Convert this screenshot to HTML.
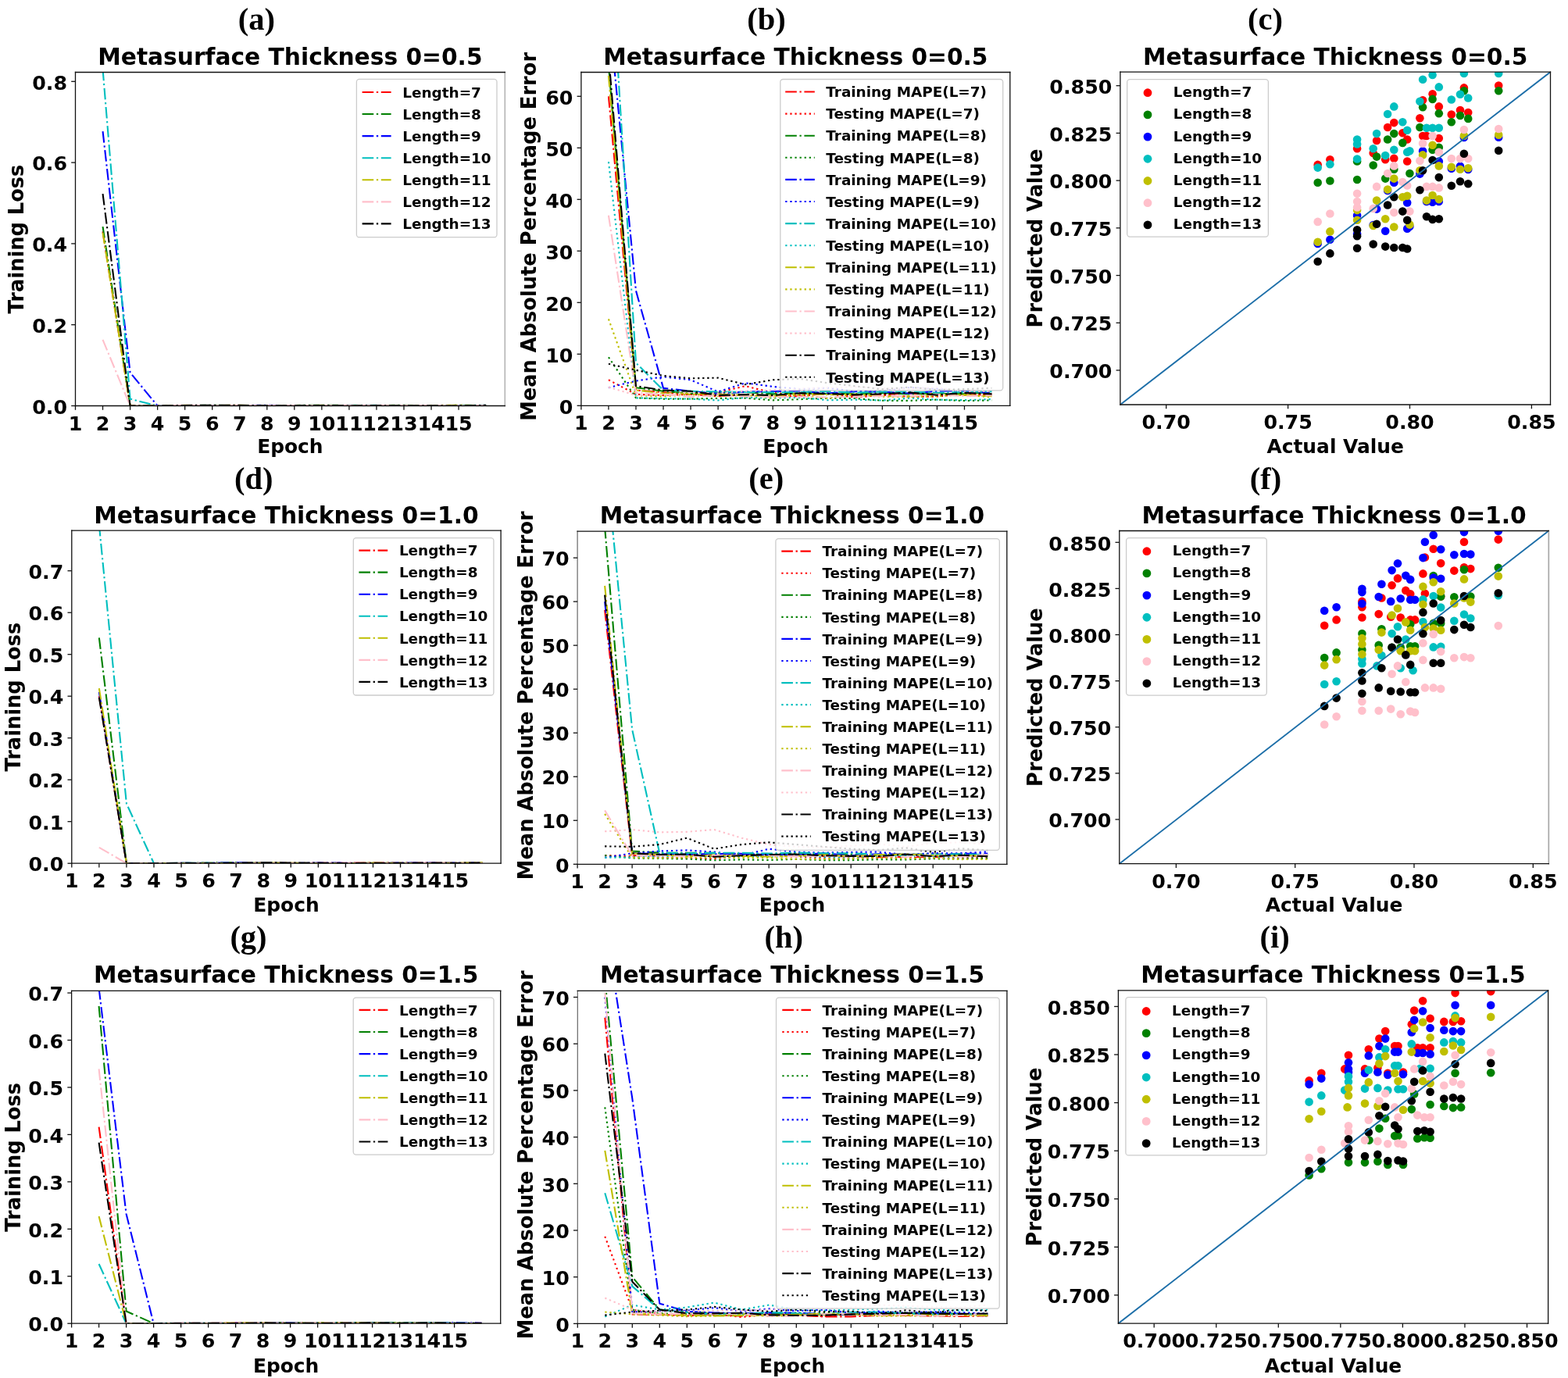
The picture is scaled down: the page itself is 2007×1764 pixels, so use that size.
<!DOCTYPE html>
<html><head><meta charset="utf-8"><title>Figure</title>
<style>html,body{margin:0;padding:0;background:#fff;}svg{display:block;filter:blur(0.45px)}text{font-family:'DejaVu Sans',sans-serif;font-weight:bold;fill:#000}</style></head>
<body><svg width="2007" height="1764" viewBox="0 0 2007 1764">
<rect width="2007" height="1764" fill="#fff"/>
<clipPath id="c1"><rect x="96.5" y="92.5" width="549.8" height="427"/></clipPath>
<polyline points="131.54,296.33 166.58,519.5 201.62,519.5 236.66,519.23 271.7,519.37 306.74,518.96 341.78,519.44 376.82,519.06 411.86,519.2 446.9,519.45 481.94,519.08 516.98,519.47 552.02,519.14 587.06,519.44 622.1,519.42" fill="none" stroke="#ff0000" stroke-width="2.1" stroke-dasharray="14.6 3.65 2.3 3.65" stroke-linejoin="round" clip-path="url(#c1)"/>
<polyline points="131.54,290.1 166.58,519.5 201.62,519.5 236.66,519.15 271.7,518.81 306.74,519.4 341.78,519.31 376.82,518.98 411.86,518.71 446.9,519.02 481.94,519.17 516.98,518.69 552.02,519.46 587.06,518.79 622.1,519.26" fill="none" stroke="#008000" stroke-width="2.1" stroke-dasharray="14.6 3.65 2.3 3.65" stroke-linejoin="round" clip-path="url(#c1)"/>
<polyline points="131.54,168.14 166.58,476.94 201.62,519.5 236.66,519.38 271.7,519.4 306.74,519.24 341.78,518.82 376.82,519.35 411.86,519.02 446.9,518.97 481.94,519.19 516.98,519.05 552.02,519.45 587.06,519.45 622.1,519.33" fill="none" stroke="#0000ff" stroke-width="2.1" stroke-dasharray="14.6 3.65 2.3 3.65" stroke-linejoin="round" clip-path="url(#c1)"/>
<polyline points="131.54,88.73 166.58,510.68 201.62,519.5 236.66,518.93 271.7,519.14 306.74,519.24 341.78,519.01 376.82,519.12 411.86,519.25 446.9,518.84 481.94,518.92 516.98,519.3 552.02,519.02 587.06,519.06 622.1,518.77" fill="none" stroke="#00bfbf" stroke-width="2.1" stroke-dasharray="14.6 3.65 2.3 3.65" stroke-linejoin="round" clip-path="url(#c1)"/>
<polyline points="131.54,297.89 166.58,519.5 201.62,519.5 236.66,518.89 271.7,519.26 306.74,518.69 341.78,519.4 376.82,519.15 411.86,518.87 446.9,519.37 481.94,519.09 516.98,519.47 552.02,518.95 587.06,518.87 622.1,519.02" fill="none" stroke="#bfbf00" stroke-width="2.1" stroke-dasharray="14.6 3.65 2.3 3.65" stroke-linejoin="round" clip-path="url(#c1)"/>
<polyline points="131.54,434.9 166.58,519.5 201.62,519.5 236.66,518.77 271.7,519.24 306.74,518.92 341.78,519.01 376.82,519.02 411.86,519.12 446.9,518.8 481.94,518.72 516.98,519.11 552.02,518.95 587.06,519.45 622.1,518.92" fill="none" stroke="#ffc0cb" stroke-width="2.1" stroke-dasharray="14.6 3.65 2.3 3.65" stroke-linejoin="round" clip-path="url(#c1)"/>
<polyline points="131.54,248.06 166.58,519.5 201.62,519.5 236.66,518.96 271.7,518.68 306.74,518.82 341.78,519.26 376.82,519.18 411.86,518.94 446.9,519.48 481.94,519.12 516.98,519.36 552.02,519.4 587.06,519.45 622.1,518.86" fill="none" stroke="#000000" stroke-width="2.1" stroke-dasharray="14.6 3.65 2.3 3.65" stroke-linejoin="round" clip-path="url(#c1)"/>
<line x1="96.5" y1="92.5" x2="96.5" y2="519.5" stroke="#111" stroke-width="1.3" stroke-linecap="square"/>
<line x1="646.3" y1="92.5" x2="646.3" y2="519.5" stroke="#b8b8b8" stroke-width="1.7" stroke-linecap="square"/>
<line x1="96.5" y1="92.5" x2="646.3" y2="92.5" stroke="#111" stroke-width="1.3" stroke-linecap="square"/>
<line x1="96.5" y1="519.5" x2="646.3" y2="519.5" stroke="#111" stroke-width="1.3" stroke-linecap="square"/>
<line x1="91.2" y1="519.5" x2="96.5" y2="519.5" stroke="#111" stroke-width="1.3"/>
<text x="86" y="529.7" font-size="25.3" text-anchor="end" >0.0</text>
<line x1="91.2" y1="415.7" x2="96.5" y2="415.7" stroke="#111" stroke-width="1.3"/>
<text x="86" y="425.9" font-size="25.3" text-anchor="end" >0.2</text>
<line x1="91.2" y1="311.9" x2="96.5" y2="311.9" stroke="#111" stroke-width="1.3"/>
<text x="86" y="322.1" font-size="25.3" text-anchor="end" >0.4</text>
<line x1="91.2" y1="208.1" x2="96.5" y2="208.1" stroke="#111" stroke-width="1.3"/>
<text x="86" y="218.3" font-size="25.3" text-anchor="end" >0.6</text>
<line x1="91.2" y1="104.3" x2="96.5" y2="104.3" stroke="#111" stroke-width="1.3"/>
<text x="86" y="114.5" font-size="25.3" text-anchor="end" >0.8</text>
<line x1="96.5" y1="519.5" x2="96.5" y2="524.8" stroke="#111" stroke-width="1.3"/>
<text x="96.5" y="550.5" font-size="25.3" text-anchor="middle" >1</text>
<line x1="131.54" y1="519.5" x2="131.54" y2="524.8" stroke="#111" stroke-width="1.3"/>
<text x="131.54" y="550.5" font-size="25.3" text-anchor="middle" >2</text>
<line x1="166.58" y1="519.5" x2="166.58" y2="524.8" stroke="#111" stroke-width="1.3"/>
<text x="166.58" y="550.5" font-size="25.3" text-anchor="middle" >3</text>
<line x1="201.62" y1="519.5" x2="201.62" y2="524.8" stroke="#111" stroke-width="1.3"/>
<text x="201.62" y="550.5" font-size="25.3" text-anchor="middle" >4</text>
<line x1="236.66" y1="519.5" x2="236.66" y2="524.8" stroke="#111" stroke-width="1.3"/>
<text x="236.66" y="550.5" font-size="25.3" text-anchor="middle" >5</text>
<line x1="271.7" y1="519.5" x2="271.7" y2="524.8" stroke="#111" stroke-width="1.3"/>
<text x="271.7" y="550.5" font-size="25.3" text-anchor="middle" >6</text>
<line x1="306.74" y1="519.5" x2="306.74" y2="524.8" stroke="#111" stroke-width="1.3"/>
<text x="306.74" y="550.5" font-size="25.3" text-anchor="middle" >7</text>
<line x1="341.78" y1="519.5" x2="341.78" y2="524.8" stroke="#111" stroke-width="1.3"/>
<text x="341.78" y="550.5" font-size="25.3" text-anchor="middle" >8</text>
<line x1="376.82" y1="519.5" x2="376.82" y2="524.8" stroke="#111" stroke-width="1.3"/>
<text x="376.82" y="550.5" font-size="25.3" text-anchor="middle" >9</text>
<line x1="411.86" y1="519.5" x2="411.86" y2="524.8" stroke="#111" stroke-width="1.3"/>
<text x="411.86" y="550.5" font-size="25.3" text-anchor="middle" >10</text>
<line x1="446.9" y1="519.5" x2="446.9" y2="524.8" stroke="#111" stroke-width="1.3"/>
<text x="446.9" y="550.5" font-size="25.3" text-anchor="middle" >11</text>
<line x1="481.94" y1="519.5" x2="481.94" y2="524.8" stroke="#111" stroke-width="1.3"/>
<text x="481.94" y="550.5" font-size="25.3" text-anchor="middle" >12</text>
<line x1="516.98" y1="519.5" x2="516.98" y2="524.8" stroke="#111" stroke-width="1.3"/>
<text x="516.98" y="550.5" font-size="25.3" text-anchor="middle" >13</text>
<line x1="552.02" y1="519.5" x2="552.02" y2="524.8" stroke="#111" stroke-width="1.3"/>
<text x="552.02" y="550.5" font-size="25.3" text-anchor="middle" >14</text>
<line x1="587.06" y1="519.5" x2="587.06" y2="524.8" stroke="#111" stroke-width="1.3"/>
<text x="587.06" y="550.5" font-size="25.3" text-anchor="middle" >15</text>
<rect x="456.4" y="101.4" width="179.6" height="202.3" rx="3.5" fill="#fff" fill-opacity="0.8" stroke="#cccccc" stroke-width="1.3"/>
<line x1="463.6" y1="118" x2="500.6" y2="118" stroke="#ff0000" stroke-width="2.1" stroke-dasharray="14.6 3.65 2.3 3.65"/>
<text x="515.3" y="124.7" font-size="18.4" text-anchor="start" >Length=7</text>
<line x1="463.6" y1="146.07" x2="500.6" y2="146.07" stroke="#008000" stroke-width="2.1" stroke-dasharray="14.6 3.65 2.3 3.65"/>
<text x="515.3" y="152.77" font-size="18.4" text-anchor="start" >Length=8</text>
<line x1="463.6" y1="174.14" x2="500.6" y2="174.14" stroke="#0000ff" stroke-width="2.1" stroke-dasharray="14.6 3.65 2.3 3.65"/>
<text x="515.3" y="180.84" font-size="18.4" text-anchor="start" >Length=9</text>
<line x1="463.6" y1="202.21" x2="500.6" y2="202.21" stroke="#00bfbf" stroke-width="2.1" stroke-dasharray="14.6 3.65 2.3 3.65"/>
<text x="515.3" y="208.91" font-size="18.4" text-anchor="start" >Length=10</text>
<line x1="463.6" y1="230.28" x2="500.6" y2="230.28" stroke="#bfbf00" stroke-width="2.1" stroke-dasharray="14.6 3.65 2.3 3.65"/>
<text x="515.3" y="236.98" font-size="18.4" text-anchor="start" >Length=11</text>
<line x1="463.6" y1="258.35" x2="500.6" y2="258.35" stroke="#ffc0cb" stroke-width="2.1" stroke-dasharray="14.6 3.65 2.3 3.65"/>
<text x="515.3" y="265.05" font-size="18.4" text-anchor="start" >Length=12</text>
<line x1="463.6" y1="286.42" x2="500.6" y2="286.42" stroke="#000000" stroke-width="2.1" stroke-dasharray="14.6 3.65 2.3 3.65"/>
<text x="515.3" y="293.12" font-size="18.4" text-anchor="start" >Length=13</text>
<text x="371.4" y="82.5" font-size="29.7" text-anchor="middle" >Metasurface Thickness 0=0.5</text>
<text x="371.4" y="579.5" font-size="24.9" text-anchor="middle" >Epoch</text>
<text x="0" y="0" font-size="25.7" text-anchor="middle" transform="translate(30.3,306) rotate(-90)">Training Loss</text>
<clipPath id="c2"><rect x="91.8" y="679.1" width="549.3" height="426.1"/></clipPath>
<polyline points="126.86,891.2 161.92,1105.2 196.98,1105.2 232.04,1105.09 267.1,1104.99 302.16,1104.87 337.22,1104.45 372.28,1105.13 407.34,1104.82 442.4,1104.73 477.46,1104.44 512.52,1104.5 547.58,1104.46 582.64,1104.96 617.7,1104.84" fill="none" stroke="#ff0000" stroke-width="2.1" stroke-dasharray="14.6 3.65 2.3 3.65" stroke-linejoin="round" clip-path="url(#c2)"/>
<polyline points="126.86,816.3 161.92,1105.2 196.98,1105.2 232.04,1104.89 267.1,1104.44 302.16,1104.38 337.22,1105.07 372.28,1105.05 407.34,1105 442.4,1105 477.46,1104.78 512.52,1104.7 547.58,1104.98 582.64,1105.2 617.7,1104.84" fill="none" stroke="#008000" stroke-width="2.1" stroke-dasharray="14.6 3.65 2.3 3.65" stroke-linejoin="round" clip-path="url(#c2)"/>
<polyline points="126.86,885.85 161.92,1105.2 196.98,1105.2 232.04,1104.88 267.1,1104.72 302.16,1104.38 337.22,1104.61 372.28,1104.76 407.34,1104.67 442.4,1104.62 477.46,1105.15 512.52,1104.43 547.58,1104.53 582.64,1104.45 617.7,1104.52" fill="none" stroke="#0000ff" stroke-width="2.1" stroke-dasharray="14.6 3.65 2.3 3.65" stroke-linejoin="round" clip-path="url(#c2)"/>
<polyline points="126.86,671.85 161.92,1028.7 196.98,1105.2 232.04,1104.86 267.1,1104.86 302.16,1105.11 337.22,1104.66 372.28,1105.15 407.34,1105.14 442.4,1105.02 477.46,1105.06 512.52,1104.91 547.58,1105.15 582.64,1105.2 617.7,1105.07" fill="none" stroke="#00bfbf" stroke-width="2.1" stroke-dasharray="14.6 3.65 2.3 3.65" stroke-linejoin="round" clip-path="url(#c2)"/>
<polyline points="126.86,881.04 161.92,1105.2 196.98,1105.2 232.04,1105.11 267.1,1104.89 302.16,1105.18 337.22,1104.45 372.28,1104.67 407.34,1105.07 442.4,1104.98 477.46,1104.9 512.52,1104.89 547.58,1105.09 582.64,1104.47 617.7,1104.35" fill="none" stroke="#bfbf00" stroke-width="2.1" stroke-dasharray="14.6 3.65 2.3 3.65" stroke-linejoin="round" clip-path="url(#c2)"/>
<polyline points="126.86,1084.87 161.92,1105.2 196.98,1105.2 232.04,1104.8 267.1,1104.79 302.16,1105.13 337.22,1105.11 372.28,1104.91 407.34,1104.97 442.4,1104.49 477.46,1105.06 512.52,1105.18 547.58,1104.39 582.64,1104.75 617.7,1105.07" fill="none" stroke="#ffc0cb" stroke-width="2.1" stroke-dasharray="14.6 3.65 2.3 3.65" stroke-linejoin="round" clip-path="url(#c2)"/>
<polyline points="126.86,892.81 161.92,1105.2 196.98,1105.2 232.04,1104.74 267.1,1105.18 302.16,1104.75 337.22,1104.36 372.28,1104.46 407.34,1104.6 442.4,1104.98 477.46,1104.89 512.52,1105.06 547.58,1104.54 582.64,1104.74 617.7,1104.53" fill="none" stroke="#000000" stroke-width="2.1" stroke-dasharray="14.6 3.65 2.3 3.65" stroke-linejoin="round" clip-path="url(#c2)"/>
<line x1="91.8" y1="679.1" x2="91.8" y2="1105.2" stroke="#111" stroke-width="1.3" stroke-linecap="square"/>
<line x1="641.1" y1="679.1" x2="641.1" y2="1105.2" stroke="#111" stroke-width="1.3" stroke-linecap="square"/>
<line x1="91.8" y1="679.1" x2="641.1" y2="679.1" stroke="#111" stroke-width="1.3" stroke-linecap="square"/>
<line x1="91.8" y1="1105.2" x2="641.1" y2="1105.2" stroke="#111" stroke-width="1.3" stroke-linecap="square"/>
<line x1="86.5" y1="1105.2" x2="91.8" y2="1105.2" stroke="#111" stroke-width="1.3"/>
<text x="81.3" y="1115.4" font-size="25.3" text-anchor="end" >0.0</text>
<line x1="86.5" y1="1051.7" x2="91.8" y2="1051.7" stroke="#111" stroke-width="1.3"/>
<text x="81.3" y="1061.9" font-size="25.3" text-anchor="end" >0.1</text>
<line x1="86.5" y1="998.2" x2="91.8" y2="998.2" stroke="#111" stroke-width="1.3"/>
<text x="81.3" y="1008.4" font-size="25.3" text-anchor="end" >0.2</text>
<line x1="86.5" y1="944.7" x2="91.8" y2="944.7" stroke="#111" stroke-width="1.3"/>
<text x="81.3" y="954.9" font-size="25.3" text-anchor="end" >0.3</text>
<line x1="86.5" y1="891.2" x2="91.8" y2="891.2" stroke="#111" stroke-width="1.3"/>
<text x="81.3" y="901.4" font-size="25.3" text-anchor="end" >0.4</text>
<line x1="86.5" y1="837.7" x2="91.8" y2="837.7" stroke="#111" stroke-width="1.3"/>
<text x="81.3" y="847.9" font-size="25.3" text-anchor="end" >0.5</text>
<line x1="86.5" y1="784.2" x2="91.8" y2="784.2" stroke="#111" stroke-width="1.3"/>
<text x="81.3" y="794.4" font-size="25.3" text-anchor="end" >0.6</text>
<line x1="86.5" y1="730.7" x2="91.8" y2="730.7" stroke="#111" stroke-width="1.3"/>
<text x="81.3" y="740.9" font-size="25.3" text-anchor="end" >0.7</text>
<line x1="91.8" y1="1105.2" x2="91.8" y2="1110.5" stroke="#111" stroke-width="1.3"/>
<text x="91.8" y="1136.2" font-size="25.3" text-anchor="middle" >1</text>
<line x1="126.86" y1="1105.2" x2="126.86" y2="1110.5" stroke="#111" stroke-width="1.3"/>
<text x="126.86" y="1136.2" font-size="25.3" text-anchor="middle" >2</text>
<line x1="161.92" y1="1105.2" x2="161.92" y2="1110.5" stroke="#111" stroke-width="1.3"/>
<text x="161.92" y="1136.2" font-size="25.3" text-anchor="middle" >3</text>
<line x1="196.98" y1="1105.2" x2="196.98" y2="1110.5" stroke="#111" stroke-width="1.3"/>
<text x="196.98" y="1136.2" font-size="25.3" text-anchor="middle" >4</text>
<line x1="232.04" y1="1105.2" x2="232.04" y2="1110.5" stroke="#111" stroke-width="1.3"/>
<text x="232.04" y="1136.2" font-size="25.3" text-anchor="middle" >5</text>
<line x1="267.1" y1="1105.2" x2="267.1" y2="1110.5" stroke="#111" stroke-width="1.3"/>
<text x="267.1" y="1136.2" font-size="25.3" text-anchor="middle" >6</text>
<line x1="302.16" y1="1105.2" x2="302.16" y2="1110.5" stroke="#111" stroke-width="1.3"/>
<text x="302.16" y="1136.2" font-size="25.3" text-anchor="middle" >7</text>
<line x1="337.22" y1="1105.2" x2="337.22" y2="1110.5" stroke="#111" stroke-width="1.3"/>
<text x="337.22" y="1136.2" font-size="25.3" text-anchor="middle" >8</text>
<line x1="372.28" y1="1105.2" x2="372.28" y2="1110.5" stroke="#111" stroke-width="1.3"/>
<text x="372.28" y="1136.2" font-size="25.3" text-anchor="middle" >9</text>
<line x1="407.34" y1="1105.2" x2="407.34" y2="1110.5" stroke="#111" stroke-width="1.3"/>
<text x="407.34" y="1136.2" font-size="25.3" text-anchor="middle" >10</text>
<line x1="442.4" y1="1105.2" x2="442.4" y2="1110.5" stroke="#111" stroke-width="1.3"/>
<text x="442.4" y="1136.2" font-size="25.3" text-anchor="middle" >11</text>
<line x1="477.46" y1="1105.2" x2="477.46" y2="1110.5" stroke="#111" stroke-width="1.3"/>
<text x="477.46" y="1136.2" font-size="25.3" text-anchor="middle" >12</text>
<line x1="512.52" y1="1105.2" x2="512.52" y2="1110.5" stroke="#111" stroke-width="1.3"/>
<text x="512.52" y="1136.2" font-size="25.3" text-anchor="middle" >13</text>
<line x1="547.58" y1="1105.2" x2="547.58" y2="1110.5" stroke="#111" stroke-width="1.3"/>
<text x="547.58" y="1136.2" font-size="25.3" text-anchor="middle" >14</text>
<line x1="582.64" y1="1105.2" x2="582.64" y2="1110.5" stroke="#111" stroke-width="1.3"/>
<text x="582.64" y="1136.2" font-size="25.3" text-anchor="middle" >15</text>
<rect x="452.3" y="688.6" width="179.6" height="201.4" rx="3.5" fill="#fff" fill-opacity="0.8" stroke="#cccccc" stroke-width="1.3"/>
<line x1="459.4" y1="704.6" x2="496.2" y2="704.6" stroke="#ff0000" stroke-width="2.1" stroke-dasharray="14.6 3.65 2.3 3.65"/>
<text x="510.9" y="711.3" font-size="18.4" text-anchor="start" >Length=7</text>
<line x1="459.4" y1="732.65" x2="496.2" y2="732.65" stroke="#008000" stroke-width="2.1" stroke-dasharray="14.6 3.65 2.3 3.65"/>
<text x="510.9" y="739.35" font-size="18.4" text-anchor="start" >Length=8</text>
<line x1="459.4" y1="760.7" x2="496.2" y2="760.7" stroke="#0000ff" stroke-width="2.1" stroke-dasharray="14.6 3.65 2.3 3.65"/>
<text x="510.9" y="767.4" font-size="18.4" text-anchor="start" >Length=9</text>
<line x1="459.4" y1="788.75" x2="496.2" y2="788.75" stroke="#00bfbf" stroke-width="2.1" stroke-dasharray="14.6 3.65 2.3 3.65"/>
<text x="510.9" y="795.45" font-size="18.4" text-anchor="start" >Length=10</text>
<line x1="459.4" y1="816.8" x2="496.2" y2="816.8" stroke="#bfbf00" stroke-width="2.1" stroke-dasharray="14.6 3.65 2.3 3.65"/>
<text x="510.9" y="823.5" font-size="18.4" text-anchor="start" >Length=11</text>
<line x1="459.4" y1="844.85" x2="496.2" y2="844.85" stroke="#ffc0cb" stroke-width="2.1" stroke-dasharray="14.6 3.65 2.3 3.65"/>
<text x="510.9" y="851.55" font-size="18.4" text-anchor="start" >Length=12</text>
<line x1="459.4" y1="872.9" x2="496.2" y2="872.9" stroke="#000000" stroke-width="2.1" stroke-dasharray="14.6 3.65 2.3 3.65"/>
<text x="510.9" y="879.6" font-size="18.4" text-anchor="start" >Length=13</text>
<text x="366.45" y="670" font-size="29.7" text-anchor="middle" >Metasurface Thickness 0=1.0</text>
<text x="366.45" y="1166.5" font-size="24.9" text-anchor="middle" >Epoch</text>
<text x="0" y="0" font-size="25.7" text-anchor="middle" transform="translate(26,892.15) rotate(-90)">Training Loss</text>
<clipPath id="c3"><rect x="91.6" y="1268.3" width="549.1" height="425.9"/></clipPath>
<polyline points="126.6,1442.73 161.6,1694.2 196.6,1694.2 231.6,1693.88 266.6,1693.98 301.6,1693.42 336.6,1693.25 371.6,1693.38 406.6,1693.42 441.6,1693.41 476.6,1693.48 511.6,1693.98 546.6,1693.7 581.6,1693.86 616.6,1694.17" fill="none" stroke="#ff0000" stroke-width="2.1" stroke-dasharray="14.6 3.65 2.3 3.65" stroke-linejoin="round" clip-path="url(#c3)"/>
<polyline points="126.6,1287.98 161.6,1678.48 196.6,1694.2 231.6,1694.17 266.6,1693.93 301.6,1693.95 336.6,1693.53 371.6,1693.27 406.6,1693.77 441.6,1693.29 476.6,1693.24 511.6,1693.28 546.6,1693.85 581.6,1693.99 616.6,1693.98" fill="none" stroke="#008000" stroke-width="2.1" stroke-dasharray="14.6 3.65 2.3 3.65" stroke-linejoin="round" clip-path="url(#c3)"/>
<polyline points="126.6,1265.01 161.6,1553.96 196.6,1694.2 231.6,1694.01 266.6,1694 301.6,1693.6 336.6,1693.33 371.6,1693.39 406.6,1693.74 441.6,1693.57 476.6,1693.43 511.6,1694.12 546.6,1693.56 581.6,1693.32 616.6,1693.44" fill="none" stroke="#0000ff" stroke-width="2.1" stroke-dasharray="14.6 3.65 2.3 3.65" stroke-linejoin="round" clip-path="url(#c3)"/>
<polyline points="126.6,1618.03 161.6,1694.2 196.6,1694.2 231.6,1693.47 266.6,1693.74 301.6,1694.03 336.6,1693.44 371.6,1693.88 406.6,1693.43 441.6,1693.26 476.6,1693.82 511.6,1693.81 546.6,1693.28 581.6,1693.5 616.6,1694.04" fill="none" stroke="#00bfbf" stroke-width="2.1" stroke-dasharray="14.6 3.65 2.3 3.65" stroke-linejoin="round" clip-path="url(#c3)"/>
<polyline points="126.6,1556.98 161.6,1694.2 196.6,1694.2 231.6,1694.08 266.6,1694.05 301.6,1693.32 336.6,1693.42 371.6,1694.06 406.6,1693.4 441.6,1693.25 476.6,1693.56 511.6,1693.86 546.6,1693.67 581.6,1694.07 616.6,1694.19" fill="none" stroke="#bfbf00" stroke-width="2.1" stroke-dasharray="14.6 3.65 2.3 3.65" stroke-linejoin="round" clip-path="url(#c3)"/>
<polyline points="126.6,1368.37 161.6,1694.2 196.6,1694.2 231.6,1693.26 266.6,1693.57 301.6,1693.69 336.6,1693.3 371.6,1693.78 406.6,1693.36 441.6,1693.4 476.6,1694 511.6,1693.96 546.6,1693.92 581.6,1693.97 616.6,1693.63" fill="none" stroke="#ffc0cb" stroke-width="2.1" stroke-dasharray="14.6 3.65 2.3 3.65" stroke-linejoin="round" clip-path="url(#c3)"/>
<polyline points="126.6,1462.68 161.6,1694.2 196.6,1694.2 231.6,1693.95 266.6,1693.79 301.6,1694.07 336.6,1693.32 371.6,1693.86 406.6,1693.76 441.6,1693.64 476.6,1693.33 511.6,1693.79 546.6,1693.31 581.6,1693.71 616.6,1693.69" fill="none" stroke="#000000" stroke-width="2.1" stroke-dasharray="14.6 3.65 2.3 3.65" stroke-linejoin="round" clip-path="url(#c3)"/>
<line x1="91.6" y1="1268.3" x2="91.6" y2="1694.2" stroke="#111" stroke-width="1.3" stroke-linecap="square"/>
<line x1="640.7" y1="1268.3" x2="640.7" y2="1694.2" stroke="#111" stroke-width="1.3" stroke-linecap="square"/>
<line x1="91.6" y1="1268.3" x2="640.7" y2="1268.3" stroke="#111" stroke-width="1.3" stroke-linecap="square"/>
<line x1="91.6" y1="1694.2" x2="640.7" y2="1694.2" stroke="#111" stroke-width="1.3" stroke-linecap="square"/>
<line x1="86.3" y1="1694.2" x2="91.6" y2="1694.2" stroke="#111" stroke-width="1.3"/>
<text x="81.1" y="1704.4" font-size="25.3" text-anchor="end" >0.0</text>
<line x1="86.3" y1="1633.75" x2="91.6" y2="1633.75" stroke="#111" stroke-width="1.3"/>
<text x="81.1" y="1643.95" font-size="25.3" text-anchor="end" >0.1</text>
<line x1="86.3" y1="1573.3" x2="91.6" y2="1573.3" stroke="#111" stroke-width="1.3"/>
<text x="81.1" y="1583.5" font-size="25.3" text-anchor="end" >0.2</text>
<line x1="86.3" y1="1512.85" x2="91.6" y2="1512.85" stroke="#111" stroke-width="1.3"/>
<text x="81.1" y="1523.05" font-size="25.3" text-anchor="end" >0.3</text>
<line x1="86.3" y1="1452.4" x2="91.6" y2="1452.4" stroke="#111" stroke-width="1.3"/>
<text x="81.1" y="1462.6" font-size="25.3" text-anchor="end" >0.4</text>
<line x1="86.3" y1="1391.95" x2="91.6" y2="1391.95" stroke="#111" stroke-width="1.3"/>
<text x="81.1" y="1402.15" font-size="25.3" text-anchor="end" >0.5</text>
<line x1="86.3" y1="1331.5" x2="91.6" y2="1331.5" stroke="#111" stroke-width="1.3"/>
<text x="81.1" y="1341.7" font-size="25.3" text-anchor="end" >0.6</text>
<line x1="86.3" y1="1271.05" x2="91.6" y2="1271.05" stroke="#111" stroke-width="1.3"/>
<text x="81.1" y="1281.25" font-size="25.3" text-anchor="end" >0.7</text>
<line x1="91.6" y1="1694.2" x2="91.6" y2="1699.5" stroke="#111" stroke-width="1.3"/>
<text x="91.6" y="1725.2" font-size="25.3" text-anchor="middle" >1</text>
<line x1="126.6" y1="1694.2" x2="126.6" y2="1699.5" stroke="#111" stroke-width="1.3"/>
<text x="126.6" y="1725.2" font-size="25.3" text-anchor="middle" >2</text>
<line x1="161.6" y1="1694.2" x2="161.6" y2="1699.5" stroke="#111" stroke-width="1.3"/>
<text x="161.6" y="1725.2" font-size="25.3" text-anchor="middle" >3</text>
<line x1="196.6" y1="1694.2" x2="196.6" y2="1699.5" stroke="#111" stroke-width="1.3"/>
<text x="196.6" y="1725.2" font-size="25.3" text-anchor="middle" >4</text>
<line x1="231.6" y1="1694.2" x2="231.6" y2="1699.5" stroke="#111" stroke-width="1.3"/>
<text x="231.6" y="1725.2" font-size="25.3" text-anchor="middle" >5</text>
<line x1="266.6" y1="1694.2" x2="266.6" y2="1699.5" stroke="#111" stroke-width="1.3"/>
<text x="266.6" y="1725.2" font-size="25.3" text-anchor="middle" >6</text>
<line x1="301.6" y1="1694.2" x2="301.6" y2="1699.5" stroke="#111" stroke-width="1.3"/>
<text x="301.6" y="1725.2" font-size="25.3" text-anchor="middle" >7</text>
<line x1="336.6" y1="1694.2" x2="336.6" y2="1699.5" stroke="#111" stroke-width="1.3"/>
<text x="336.6" y="1725.2" font-size="25.3" text-anchor="middle" >8</text>
<line x1="371.6" y1="1694.2" x2="371.6" y2="1699.5" stroke="#111" stroke-width="1.3"/>
<text x="371.6" y="1725.2" font-size="25.3" text-anchor="middle" >9</text>
<line x1="406.6" y1="1694.2" x2="406.6" y2="1699.5" stroke="#111" stroke-width="1.3"/>
<text x="406.6" y="1725.2" font-size="25.3" text-anchor="middle" >10</text>
<line x1="441.6" y1="1694.2" x2="441.6" y2="1699.5" stroke="#111" stroke-width="1.3"/>
<text x="441.6" y="1725.2" font-size="25.3" text-anchor="middle" >11</text>
<line x1="476.6" y1="1694.2" x2="476.6" y2="1699.5" stroke="#111" stroke-width="1.3"/>
<text x="476.6" y="1725.2" font-size="25.3" text-anchor="middle" >12</text>
<line x1="511.6" y1="1694.2" x2="511.6" y2="1699.5" stroke="#111" stroke-width="1.3"/>
<text x="511.6" y="1725.2" font-size="25.3" text-anchor="middle" >13</text>
<line x1="546.6" y1="1694.2" x2="546.6" y2="1699.5" stroke="#111" stroke-width="1.3"/>
<text x="546.6" y="1725.2" font-size="25.3" text-anchor="middle" >14</text>
<line x1="581.6" y1="1694.2" x2="581.6" y2="1699.5" stroke="#111" stroke-width="1.3"/>
<text x="581.6" y="1725.2" font-size="25.3" text-anchor="middle" >15</text>
<rect x="452.2" y="1277.1" width="179.8" height="201" rx="3.5" fill="#fff" fill-opacity="0.8" stroke="#cccccc" stroke-width="1.3"/>
<line x1="459.6" y1="1292.9" x2="496.4" y2="1292.9" stroke="#ff0000" stroke-width="2.1" stroke-dasharray="14.6 3.65 2.3 3.65"/>
<text x="511.1" y="1299.6" font-size="18.4" text-anchor="start" >Length=7</text>
<line x1="459.6" y1="1321" x2="496.4" y2="1321" stroke="#008000" stroke-width="2.1" stroke-dasharray="14.6 3.65 2.3 3.65"/>
<text x="511.1" y="1327.7" font-size="18.4" text-anchor="start" >Length=8</text>
<line x1="459.6" y1="1349.1" x2="496.4" y2="1349.1" stroke="#0000ff" stroke-width="2.1" stroke-dasharray="14.6 3.65 2.3 3.65"/>
<text x="511.1" y="1355.8" font-size="18.4" text-anchor="start" >Length=9</text>
<line x1="459.6" y1="1377.2" x2="496.4" y2="1377.2" stroke="#00bfbf" stroke-width="2.1" stroke-dasharray="14.6 3.65 2.3 3.65"/>
<text x="511.1" y="1383.9" font-size="18.4" text-anchor="start" >Length=10</text>
<line x1="459.6" y1="1405.3" x2="496.4" y2="1405.3" stroke="#bfbf00" stroke-width="2.1" stroke-dasharray="14.6 3.65 2.3 3.65"/>
<text x="511.1" y="1412" font-size="18.4" text-anchor="start" >Length=11</text>
<line x1="459.6" y1="1433.4" x2="496.4" y2="1433.4" stroke="#ffc0cb" stroke-width="2.1" stroke-dasharray="14.6 3.65 2.3 3.65"/>
<text x="511.1" y="1440.1" font-size="18.4" text-anchor="start" >Length=12</text>
<line x1="459.6" y1="1461.5" x2="496.4" y2="1461.5" stroke="#000000" stroke-width="2.1" stroke-dasharray="14.6 3.65 2.3 3.65"/>
<text x="511.1" y="1468.2" font-size="18.4" text-anchor="start" >Length=13</text>
<text x="366.15" y="1258" font-size="29.7" text-anchor="middle" >Metasurface Thickness 0=1.5</text>
<text x="366.15" y="1756.5" font-size="24.9" text-anchor="middle" >Epoch</text>
<text x="0" y="0" font-size="25.7" text-anchor="middle" transform="translate(26,1481.25) rotate(-90)">Training Loss</text>
<clipPath id="c4"><rect x="743.9" y="92.5" width="548.9" height="426.8"/></clipPath>
<polyline points="778.94,123.3 813.98,499.5 849.02,502.14 884.06,504.66 919.1,507.32 954.14,505.1 989.18,506.45 1024.22,507.4 1059.26,503.2 1094.3,506.51 1129.34,504.92 1164.38,503.59 1199.42,504.48 1234.46,505.7 1269.5,504.68" fill="none" stroke="#ff0000" stroke-width="2.1" stroke-dasharray="14.6 3.65 2.3 3.65" stroke-linejoin="round" clip-path="url(#c4)"/>
<polyline points="778.94,486.3 813.98,504.78 849.02,506.1 884.06,504.78 919.1,502.14 954.14,494.22 989.18,502.8 1024.22,505.73 1059.26,504.22 1094.3,508.7 1129.34,505.7 1164.38,507.76 1199.42,507.57 1234.46,504.3 1269.5,506.05" fill="none" stroke="#ff0000" stroke-width="2.1" stroke-dasharray="2.3 3.8" stroke-linejoin="round" clip-path="url(#c4)"/>
<polyline points="778.94,83.7 813.98,496.2 849.02,500.82 884.06,503.79 919.1,502.75 954.14,501.94 989.18,504.42 1024.22,503.53 1059.26,504.09 1094.3,504.06 1129.34,503.1 1164.38,504.37 1199.42,503.94 1234.46,504.24 1269.5,501.79" fill="none" stroke="#008000" stroke-width="2.1" stroke-dasharray="14.6 3.65 2.3 3.65" stroke-linejoin="round" clip-path="url(#c4)"/>
<polyline points="778.94,457.26 813.98,509.4 849.02,510.72 884.06,510.59 919.1,509.89 954.14,509.63 989.18,512.33 1024.22,511.14 1059.26,509.62 1094.3,510.03 1129.34,512.82 1164.38,512.88 1199.42,511.61 1234.46,513.07 1269.5,512.41" fill="none" stroke="#008000" stroke-width="2.1" stroke-dasharray="2.3 3.8" stroke-linejoin="round" clip-path="url(#c4)"/>
<polyline points="778.94,11.1 813.98,372.12 849.02,496.86 884.06,500.82 919.1,503.83 954.14,501.47 989.18,501.02 1024.22,500.57 1059.26,503.51 1094.3,501.28 1129.34,501.51 1164.38,503.55 1199.42,500.62 1234.46,500.29 1269.5,503.25" fill="none" stroke="#0000ff" stroke-width="2.1" stroke-dasharray="14.6 3.65 2.3 3.65" stroke-linejoin="round" clip-path="url(#c4)"/>
<polyline points="778.94,496.2 813.98,487.62 849.02,482.34 884.06,486.3 919.1,501.48 954.14,490.26 989.18,494.88 1024.22,498.18 1059.26,496.58 1094.3,500.97 1129.34,500.26 1164.38,496.28 1199.42,497.53 1234.46,502.84 1269.5,500.7" fill="none" stroke="#0000ff" stroke-width="2.1" stroke-dasharray="2.3 3.8" stroke-linejoin="round" clip-path="url(#c4)"/>
<polyline points="778.94,-107.7 813.98,464.52 849.02,499.5 884.06,500.82 919.1,501.44 954.14,501.9 989.18,502.28 1024.22,501.96 1059.26,500.89 1094.3,502.75 1129.34,501.34 1164.38,501.64 1199.42,502.75 1234.46,501.92 1269.5,501.15" fill="none" stroke="#00bfbf" stroke-width="2.1" stroke-dasharray="14.6 3.65 2.3 3.65" stroke-linejoin="round" clip-path="url(#c4)"/>
<polyline points="778.94,207.12 813.98,509.4 849.02,510.06 884.06,510.67 919.1,512.45 954.14,508.8 989.18,509.58 1024.22,508.85 1059.26,512.29 1094.3,511.65 1129.34,512.54 1164.38,509.62 1199.42,511.63 1234.46,512.19 1269.5,511.03" fill="none" stroke="#00bfbf" stroke-width="2.1" stroke-dasharray="2.3 3.8" stroke-linejoin="round" clip-path="url(#c4)"/>
<polyline points="778.94,96.9 813.98,499.5 849.02,503.46 884.06,503.81 919.1,504.18 954.14,506.4 989.18,506.83 1024.22,503.78 1059.26,505.16 1094.3,504.65 1129.34,507.07 1164.38,507.19 1199.42,504.69 1234.46,505.74 1269.5,507.13" fill="none" stroke="#bfbf00" stroke-width="2.1" stroke-dasharray="14.6 3.65 2.3 3.65" stroke-linejoin="round" clip-path="url(#c4)"/>
<polyline points="778.94,408.42 813.98,506.1 849.02,507.42 884.06,505.11 919.1,506.71 954.14,505.83 989.18,509.62 1024.22,505.54 1059.26,509.71 1094.3,505.5 1129.34,507.66 1164.38,508.27 1199.42,507.14 1234.46,505.17 1269.5,508.65" fill="none" stroke="#bfbf00" stroke-width="2.1" stroke-dasharray="2.3 3.8" stroke-linejoin="round" clip-path="url(#c4)"/>
<polyline points="778.94,275.76 813.98,502.8 849.02,504.78 884.06,508.06 919.1,505.96 954.14,507.48 989.18,508.16 1024.22,507.89 1059.26,508.47 1094.3,507.67 1129.34,507.09 1164.38,507.13 1199.42,504.73 1234.46,507.21 1269.5,506.1" fill="none" stroke="#ffc0cb" stroke-width="2.1" stroke-dasharray="14.6 3.65 2.3 3.65" stroke-linejoin="round" clip-path="url(#c4)"/>
<polyline points="778.94,495.54 813.98,506.1 849.02,504.78 884.06,502.8 919.1,503.46 954.14,500.82 989.18,499.5 1024.22,497.52 1059.26,496.2 1094.3,495.54 1129.34,496.86 1164.38,498.18 1199.42,495.54 1234.46,501.63 1269.5,500.51" fill="none" stroke="#ffc0cb" stroke-width="2.1" stroke-dasharray="2.3 3.8" stroke-linejoin="round" clip-path="url(#c4)"/>
<polyline points="778.94,70.5 813.98,494.22 849.02,499.5 884.06,500.82 919.1,506.03 954.14,505.11 989.18,506.04 1024.22,503.2 1059.26,503.92 1094.3,505.35 1129.34,504.22 1164.38,502.4 1199.42,505.68 1234.46,502.86 1269.5,504.39" fill="none" stroke="#000000" stroke-width="2.1" stroke-dasharray="14.6 3.65 2.3 3.65" stroke-linejoin="round" clip-path="url(#c4)"/>
<polyline points="778.94,465.84 813.98,473.76 849.02,481.02 884.06,484.32 919.1,483.66 954.14,492.24 989.18,486.3 1024.22,484.98 1059.26,490.26 1094.3,494.22 1129.34,498.22 1164.38,495.53 1199.42,499.03 1234.46,498.13 1269.5,496.69" fill="none" stroke="#000000" stroke-width="2.1" stroke-dasharray="2.3 3.8" stroke-linejoin="round" clip-path="url(#c4)"/>
<line x1="743.9" y1="92.5" x2="743.9" y2="519.3" stroke="#111" stroke-width="1.3" stroke-linecap="square"/>
<line x1="1292.8" y1="92.5" x2="1292.8" y2="519.3" stroke="#111" stroke-width="1.3" stroke-linecap="square"/>
<line x1="743.9" y1="92.5" x2="1292.8" y2="92.5" stroke="#111" stroke-width="1.3" stroke-linecap="square"/>
<line x1="743.9" y1="519.3" x2="1292.8" y2="519.3" stroke="#111" stroke-width="1.3" stroke-linecap="square"/>
<line x1="738.6" y1="519.3" x2="743.9" y2="519.3" stroke="#111" stroke-width="1.3"/>
<text x="733.4" y="529.5" font-size="25.3" text-anchor="end" >0</text>
<line x1="738.6" y1="453.3" x2="743.9" y2="453.3" stroke="#111" stroke-width="1.3"/>
<text x="733.4" y="463.5" font-size="25.3" text-anchor="end" >10</text>
<line x1="738.6" y1="387.3" x2="743.9" y2="387.3" stroke="#111" stroke-width="1.3"/>
<text x="733.4" y="397.5" font-size="25.3" text-anchor="end" >20</text>
<line x1="738.6" y1="321.3" x2="743.9" y2="321.3" stroke="#111" stroke-width="1.3"/>
<text x="733.4" y="331.5" font-size="25.3" text-anchor="end" >30</text>
<line x1="738.6" y1="255.3" x2="743.9" y2="255.3" stroke="#111" stroke-width="1.3"/>
<text x="733.4" y="265.5" font-size="25.3" text-anchor="end" >40</text>
<line x1="738.6" y1="189.3" x2="743.9" y2="189.3" stroke="#111" stroke-width="1.3"/>
<text x="733.4" y="199.5" font-size="25.3" text-anchor="end" >50</text>
<line x1="738.6" y1="123.3" x2="743.9" y2="123.3" stroke="#111" stroke-width="1.3"/>
<text x="733.4" y="133.5" font-size="25.3" text-anchor="end" >60</text>
<line x1="743.9" y1="519.3" x2="743.9" y2="524.6" stroke="#111" stroke-width="1.3"/>
<text x="743.9" y="550.3" font-size="25.3" text-anchor="middle" >1</text>
<line x1="778.94" y1="519.3" x2="778.94" y2="524.6" stroke="#111" stroke-width="1.3"/>
<text x="778.94" y="550.3" font-size="25.3" text-anchor="middle" >2</text>
<line x1="813.98" y1="519.3" x2="813.98" y2="524.6" stroke="#111" stroke-width="1.3"/>
<text x="813.98" y="550.3" font-size="25.3" text-anchor="middle" >3</text>
<line x1="849.02" y1="519.3" x2="849.02" y2="524.6" stroke="#111" stroke-width="1.3"/>
<text x="849.02" y="550.3" font-size="25.3" text-anchor="middle" >4</text>
<line x1="884.06" y1="519.3" x2="884.06" y2="524.6" stroke="#111" stroke-width="1.3"/>
<text x="884.06" y="550.3" font-size="25.3" text-anchor="middle" >5</text>
<line x1="919.1" y1="519.3" x2="919.1" y2="524.6" stroke="#111" stroke-width="1.3"/>
<text x="919.1" y="550.3" font-size="25.3" text-anchor="middle" >6</text>
<line x1="954.14" y1="519.3" x2="954.14" y2="524.6" stroke="#111" stroke-width="1.3"/>
<text x="954.14" y="550.3" font-size="25.3" text-anchor="middle" >7</text>
<line x1="989.18" y1="519.3" x2="989.18" y2="524.6" stroke="#111" stroke-width="1.3"/>
<text x="989.18" y="550.3" font-size="25.3" text-anchor="middle" >8</text>
<line x1="1024.22" y1="519.3" x2="1024.22" y2="524.6" stroke="#111" stroke-width="1.3"/>
<text x="1024.22" y="550.3" font-size="25.3" text-anchor="middle" >9</text>
<line x1="1059.26" y1="519.3" x2="1059.26" y2="524.6" stroke="#111" stroke-width="1.3"/>
<text x="1059.26" y="550.3" font-size="25.3" text-anchor="middle" >10</text>
<line x1="1094.3" y1="519.3" x2="1094.3" y2="524.6" stroke="#111" stroke-width="1.3"/>
<text x="1094.3" y="550.3" font-size="25.3" text-anchor="middle" >11</text>
<line x1="1129.34" y1="519.3" x2="1129.34" y2="524.6" stroke="#111" stroke-width="1.3"/>
<text x="1129.34" y="550.3" font-size="25.3" text-anchor="middle" >12</text>
<line x1="1164.38" y1="519.3" x2="1164.38" y2="524.6" stroke="#111" stroke-width="1.3"/>
<text x="1164.38" y="550.3" font-size="25.3" text-anchor="middle" >13</text>
<line x1="1199.42" y1="519.3" x2="1199.42" y2="524.6" stroke="#111" stroke-width="1.3"/>
<text x="1199.42" y="550.3" font-size="25.3" text-anchor="middle" >14</text>
<line x1="1234.46" y1="519.3" x2="1234.46" y2="524.6" stroke="#111" stroke-width="1.3"/>
<text x="1234.46" y="550.3" font-size="25.3" text-anchor="middle" >15</text>
<rect x="998.8" y="101.5" width="284.9" height="398.3" rx="3.5" fill="#fff" fill-opacity="0.8" stroke="#cccccc" stroke-width="1.3"/>
<line x1="1005.2" y1="117.5" x2="1042.8" y2="117.5" stroke="#ff0000" stroke-width="2.1" stroke-dasharray="14.6 3.65 2.3 3.65"/>
<text x="1057.3" y="124.2" font-size="18.4" text-anchor="start" >Training MAPE(L=7)</text>
<line x1="1005.2" y1="145.6" x2="1042.8" y2="145.6" stroke="#ff0000" stroke-width="2.1" stroke-dasharray="2.3 3.8"/>
<text x="1057.3" y="152.3" font-size="18.4" text-anchor="start" >Testing MAPE(L=7)</text>
<line x1="1005.2" y1="173.7" x2="1042.8" y2="173.7" stroke="#008000" stroke-width="2.1" stroke-dasharray="14.6 3.65 2.3 3.65"/>
<text x="1057.3" y="180.4" font-size="18.4" text-anchor="start" >Training MAPE(L=8)</text>
<line x1="1005.2" y1="201.8" x2="1042.8" y2="201.8" stroke="#008000" stroke-width="2.1" stroke-dasharray="2.3 3.8"/>
<text x="1057.3" y="208.5" font-size="18.4" text-anchor="start" >Testing MAPE(L=8)</text>
<line x1="1005.2" y1="229.9" x2="1042.8" y2="229.9" stroke="#0000ff" stroke-width="2.1" stroke-dasharray="14.6 3.65 2.3 3.65"/>
<text x="1057.3" y="236.6" font-size="18.4" text-anchor="start" >Training MAPE(L=9)</text>
<line x1="1005.2" y1="258" x2="1042.8" y2="258" stroke="#0000ff" stroke-width="2.1" stroke-dasharray="2.3 3.8"/>
<text x="1057.3" y="264.7" font-size="18.4" text-anchor="start" >Testing MAPE(L=9)</text>
<line x1="1005.2" y1="286.1" x2="1042.8" y2="286.1" stroke="#00bfbf" stroke-width="2.1" stroke-dasharray="14.6 3.65 2.3 3.65"/>
<text x="1057.3" y="292.8" font-size="18.4" text-anchor="start" >Training MAPE(L=10)</text>
<line x1="1005.2" y1="314.2" x2="1042.8" y2="314.2" stroke="#00bfbf" stroke-width="2.1" stroke-dasharray="2.3 3.8"/>
<text x="1057.3" y="320.9" font-size="18.4" text-anchor="start" >Testing MAPE(L=10)</text>
<line x1="1005.2" y1="342.3" x2="1042.8" y2="342.3" stroke="#bfbf00" stroke-width="2.1" stroke-dasharray="14.6 3.65 2.3 3.65"/>
<text x="1057.3" y="349" font-size="18.4" text-anchor="start" >Training MAPE(L=11)</text>
<line x1="1005.2" y1="370.4" x2="1042.8" y2="370.4" stroke="#bfbf00" stroke-width="2.1" stroke-dasharray="2.3 3.8"/>
<text x="1057.3" y="377.1" font-size="18.4" text-anchor="start" >Testing MAPE(L=11)</text>
<line x1="1005.2" y1="398.5" x2="1042.8" y2="398.5" stroke="#ffc0cb" stroke-width="2.1" stroke-dasharray="14.6 3.65 2.3 3.65"/>
<text x="1057.3" y="405.2" font-size="18.4" text-anchor="start" >Training MAPE(L=12)</text>
<line x1="1005.2" y1="426.6" x2="1042.8" y2="426.6" stroke="#ffc0cb" stroke-width="2.1" stroke-dasharray="2.3 3.8"/>
<text x="1057.3" y="433.3" font-size="18.4" text-anchor="start" >Testing MAPE(L=12)</text>
<line x1="1005.2" y1="454.7" x2="1042.8" y2="454.7" stroke="#000000" stroke-width="2.1" stroke-dasharray="14.6 3.65 2.3 3.65"/>
<text x="1057.3" y="461.4" font-size="18.4" text-anchor="start" >Training MAPE(L=13)</text>
<line x1="1005.2" y1="482.8" x2="1042.8" y2="482.8" stroke="#000000" stroke-width="2.1" stroke-dasharray="2.3 3.8"/>
<text x="1057.3" y="489.5" font-size="18.4" text-anchor="start" >Testing MAPE(L=13)</text>
<text x="1018.35" y="82.5" font-size="29.7" text-anchor="middle" >Metasurface Thickness 0=0.5</text>
<text x="1018.35" y="579.5" font-size="24.9" text-anchor="middle" >Epoch</text>
<text x="0" y="0" font-size="25.7" text-anchor="middle" transform="translate(686,302.9) rotate(-90)">Mean Absolute Percentage Error</text>
<clipPath id="c5"><rect x="739.1" y="680.1" width="549.7" height="426.2"/></clipPath>
<polyline points="774.11,780.77 809.12,1095.09 844.13,1095.09 879.14,1094.03 914.15,1096.18 949.16,1094.54 984.17,1094.96 1019.18,1095.2 1054.19,1095.97 1089.2,1096.17 1124.21,1097.15 1159.22,1096.9 1194.23,1097.1 1229.24,1094.84 1264.25,1096.48" fill="none" stroke="#ff0000" stroke-width="2.1" stroke-dasharray="14.6 3.65 2.3 3.65" stroke-linejoin="round" clip-path="url(#c5)"/>
<polyline points="774.11,1095.09 809.12,1096.21 844.13,1097.34 879.14,1098.84 914.15,1099.2 949.16,1095.81 984.17,1095.67 1019.18,1096.57 1054.19,1098.31 1089.2,1098.49 1124.21,1098.26 1159.22,1097.52 1194.23,1098.87 1229.24,1097.58 1264.25,1098.4" fill="none" stroke="#ff0000" stroke-width="2.1" stroke-dasharray="2.3 3.8" stroke-linejoin="round" clip-path="url(#c5)"/>
<polyline points="774.11,674.87 809.12,1089.49 844.13,1091.73 879.14,1091.86 914.15,1091.82 949.16,1093.25 984.17,1094.27 1019.18,1091.85 1054.19,1094.05 1089.2,1093.9 1124.21,1095.09 1159.22,1093.81 1194.23,1093.5 1229.24,1093.4 1264.25,1094.42" fill="none" stroke="#008000" stroke-width="2.1" stroke-dasharray="14.6 3.65 2.3 3.65" stroke-linejoin="round" clip-path="url(#c5)"/>
<polyline points="774.11,1095.09 809.12,1098.46 844.13,1099.02 879.14,1099.56 914.15,1101.24 949.16,1100.37 984.17,1100.96 1019.18,1099.91 1054.19,1101.12 1089.2,1101.18 1124.21,1100.23 1159.22,1100.47 1194.23,1099.29 1229.24,1099.48 1264.25,1098.73" fill="none" stroke="#008000" stroke-width="2.1" stroke-dasharray="2.3 3.8" stroke-linejoin="round" clip-path="url(#c5)"/>
<polyline points="774.11,770.12 809.12,1091.73 844.13,1093.41 879.14,1093.44 914.15,1093.25 949.16,1092.7 984.17,1094.34 1019.18,1094.56 1054.19,1092.34 1089.2,1095.15 1124.21,1093.22 1159.22,1093.49 1194.23,1095.51 1229.24,1092.85 1264.25,1092.66" fill="none" stroke="#0000ff" stroke-width="2.1" stroke-dasharray="14.6 3.65 2.3 3.65" stroke-linejoin="round" clip-path="url(#c5)"/>
<polyline points="774.11,1097.9 809.12,1092.29 844.13,1089.49 879.14,1088.37 914.15,1090.61 949.16,1095.09 984.17,1086.69 1019.18,1090.61 1054.19,1091.58 1089.2,1090.98 1124.21,1090.54 1159.22,1094.31 1194.23,1092.16 1229.24,1092.27 1264.25,1090.42" fill="none" stroke="#0000ff" stroke-width="2.1" stroke-dasharray="2.3 3.8" stroke-linejoin="round" clip-path="url(#c5)"/>
<polyline points="774.11,574.01 809.12,933.73 844.13,1091.73 879.14,1092.29 914.15,1091.83 949.16,1091.76 984.17,1092.57 1019.18,1091.53 1054.19,1092.24 1089.2,1092.2 1124.21,1093.76 1159.22,1094.43 1194.23,1094.09 1229.24,1093.32 1264.25,1094.18" fill="none" stroke="#00bfbf" stroke-width="2.1" stroke-dasharray="14.6 3.65 2.3 3.65" stroke-linejoin="round" clip-path="url(#c5)"/>
<polyline points="774.11,1097.9 809.12,1097.34 844.13,1096.21 879.14,1095.27 914.15,1096.51 949.16,1096.2 984.17,1096.21 1019.18,1095.97 1054.19,1096.82 1089.2,1099 1124.21,1095.44 1159.22,1095.66 1194.23,1096.76 1229.24,1096.62 1264.25,1096.06" fill="none" stroke="#00bfbf" stroke-width="2.1" stroke-dasharray="2.3 3.8" stroke-linejoin="round" clip-path="url(#c5)"/>
<polyline points="774.11,749.95 809.12,1092.29 844.13,1093.97 879.14,1096.55 914.15,1094.3 949.16,1095.93 984.17,1096.52 1019.18,1095.88 1054.19,1094.32 1089.2,1096.08 1124.21,1094.29 1159.22,1093.49 1194.23,1095.11 1229.24,1095.49 1264.25,1095.16" fill="none" stroke="#bfbf00" stroke-width="2.1" stroke-dasharray="14.6 3.65 2.3 3.65" stroke-linejoin="round" clip-path="url(#c5)"/>
<polyline points="774.11,1041.87 809.12,1097.9 844.13,1098.46 879.14,1097.84 914.15,1097.56 949.16,1098.06 984.17,1097.98 1019.18,1099.88 1054.19,1099.64 1089.2,1099.28 1124.21,1097.64 1159.22,1099.11 1194.23,1098.23 1229.24,1100.09 1264.25,1099.93" fill="none" stroke="#bfbf00" stroke-width="2.1" stroke-dasharray="2.3 3.8" stroke-linejoin="round" clip-path="url(#c5)"/>
<polyline points="774.11,1037.38 809.12,1095.09 844.13,1095.09 879.14,1096.43 914.15,1095.08 949.16,1095.01 984.17,1095.06 1019.18,1096.36 1054.19,1095.6 1089.2,1095.77 1124.21,1095.77 1159.22,1096.94 1194.23,1094.33 1229.24,1096.67 1264.25,1094.05" fill="none" stroke="#ffc0cb" stroke-width="2.1" stroke-dasharray="14.6 3.65 2.3 3.65" stroke-linejoin="round" clip-path="url(#c5)"/>
<polyline points="774.11,1064.28 809.12,1062.04 844.13,1065.4 879.14,1064.84 914.15,1062.04 949.16,1072.68 984.17,1081.09 1019.18,1083.89 1054.19,1085.01 1089.2,1082.77 1124.21,1080.53 1159.22,1083.89 1194.23,1079.41 1229.24,1078.28 1264.25,1081.09" fill="none" stroke="#ffc0cb" stroke-width="2.1" stroke-dasharray="2.3 3.8" stroke-linejoin="round" clip-path="url(#c5)"/>
<polyline points="774.11,761.72 809.12,1092.29 844.13,1093.97 879.14,1093.63 914.15,1096.72 949.16,1095.23 984.17,1094.02 1019.18,1093.52 1054.19,1095.26 1089.2,1095.87 1124.21,1096.07 1159.22,1093.6 1194.23,1096.07 1229.24,1094.82 1264.25,1096.3" fill="none" stroke="#000000" stroke-width="2.1" stroke-dasharray="14.6 3.65 2.3 3.65" stroke-linejoin="round" clip-path="url(#c5)"/>
<polyline points="774.11,1083.33 809.12,1083.89 844.13,1081.09 879.14,1072.68 914.15,1086.69 949.16,1081.09 984.17,1078.28 1019.18,1081.09 1054.19,1083.89 1089.2,1086.69 1124.21,1088.21 1159.22,1085.33 1194.23,1090.84 1229.24,1086.22 1264.25,1088.31" fill="none" stroke="#000000" stroke-width="2.1" stroke-dasharray="2.3 3.8" stroke-linejoin="round" clip-path="url(#c5)"/>
<line x1="739.1" y1="680.1" x2="739.1" y2="1106.3" stroke="#666" stroke-width="1.2" stroke-linecap="square"/>
<line x1="1288.8" y1="680.1" x2="1288.8" y2="1106.3" stroke="#111" stroke-width="1.3" stroke-linecap="square"/>
<line x1="739.1" y1="680.1" x2="1288.8" y2="680.1" stroke="#111" stroke-width="1.3" stroke-linecap="square"/>
<line x1="739.1" y1="1106.3" x2="1288.8" y2="1106.3" stroke="#111" stroke-width="1.3" stroke-linecap="square"/>
<line x1="733.8" y1="1106.3" x2="739.1" y2="1106.3" stroke="#111" stroke-width="1.3"/>
<text x="728.6" y="1116.5" font-size="25.3" text-anchor="end" >0</text>
<line x1="733.8" y1="1050.27" x2="739.1" y2="1050.27" stroke="#111" stroke-width="1.3"/>
<text x="728.6" y="1060.47" font-size="25.3" text-anchor="end" >10</text>
<line x1="733.8" y1="994.24" x2="739.1" y2="994.24" stroke="#111" stroke-width="1.3"/>
<text x="728.6" y="1004.44" font-size="25.3" text-anchor="end" >20</text>
<line x1="733.8" y1="938.21" x2="739.1" y2="938.21" stroke="#111" stroke-width="1.3"/>
<text x="728.6" y="948.41" font-size="25.3" text-anchor="end" >30</text>
<line x1="733.8" y1="882.18" x2="739.1" y2="882.18" stroke="#111" stroke-width="1.3"/>
<text x="728.6" y="892.38" font-size="25.3" text-anchor="end" >40</text>
<line x1="733.8" y1="826.15" x2="739.1" y2="826.15" stroke="#111" stroke-width="1.3"/>
<text x="728.6" y="836.35" font-size="25.3" text-anchor="end" >50</text>
<line x1="733.8" y1="770.12" x2="739.1" y2="770.12" stroke="#111" stroke-width="1.3"/>
<text x="728.6" y="780.32" font-size="25.3" text-anchor="end" >60</text>
<line x1="733.8" y1="714.09" x2="739.1" y2="714.09" stroke="#111" stroke-width="1.3"/>
<text x="728.6" y="724.29" font-size="25.3" text-anchor="end" >70</text>
<line x1="739.1" y1="1106.3" x2="739.1" y2="1111.6" stroke="#111" stroke-width="1.3"/>
<text x="739.1" y="1137.3" font-size="25.3" text-anchor="middle" >1</text>
<line x1="774.11" y1="1106.3" x2="774.11" y2="1111.6" stroke="#111" stroke-width="1.3"/>
<text x="774.11" y="1137.3" font-size="25.3" text-anchor="middle" >2</text>
<line x1="809.12" y1="1106.3" x2="809.12" y2="1111.6" stroke="#111" stroke-width="1.3"/>
<text x="809.12" y="1137.3" font-size="25.3" text-anchor="middle" >3</text>
<line x1="844.13" y1="1106.3" x2="844.13" y2="1111.6" stroke="#111" stroke-width="1.3"/>
<text x="844.13" y="1137.3" font-size="25.3" text-anchor="middle" >4</text>
<line x1="879.14" y1="1106.3" x2="879.14" y2="1111.6" stroke="#111" stroke-width="1.3"/>
<text x="879.14" y="1137.3" font-size="25.3" text-anchor="middle" >5</text>
<line x1="914.15" y1="1106.3" x2="914.15" y2="1111.6" stroke="#111" stroke-width="1.3"/>
<text x="914.15" y="1137.3" font-size="25.3" text-anchor="middle" >6</text>
<line x1="949.16" y1="1106.3" x2="949.16" y2="1111.6" stroke="#111" stroke-width="1.3"/>
<text x="949.16" y="1137.3" font-size="25.3" text-anchor="middle" >7</text>
<line x1="984.17" y1="1106.3" x2="984.17" y2="1111.6" stroke="#111" stroke-width="1.3"/>
<text x="984.17" y="1137.3" font-size="25.3" text-anchor="middle" >8</text>
<line x1="1019.18" y1="1106.3" x2="1019.18" y2="1111.6" stroke="#111" stroke-width="1.3"/>
<text x="1019.18" y="1137.3" font-size="25.3" text-anchor="middle" >9</text>
<line x1="1054.19" y1="1106.3" x2="1054.19" y2="1111.6" stroke="#111" stroke-width="1.3"/>
<text x="1054.19" y="1137.3" font-size="25.3" text-anchor="middle" >10</text>
<line x1="1089.2" y1="1106.3" x2="1089.2" y2="1111.6" stroke="#111" stroke-width="1.3"/>
<text x="1089.2" y="1137.3" font-size="25.3" text-anchor="middle" >11</text>
<line x1="1124.21" y1="1106.3" x2="1124.21" y2="1111.6" stroke="#111" stroke-width="1.3"/>
<text x="1124.21" y="1137.3" font-size="25.3" text-anchor="middle" >12</text>
<line x1="1159.22" y1="1106.3" x2="1159.22" y2="1111.6" stroke="#111" stroke-width="1.3"/>
<text x="1159.22" y="1137.3" font-size="25.3" text-anchor="middle" >13</text>
<line x1="1194.23" y1="1106.3" x2="1194.23" y2="1111.6" stroke="#111" stroke-width="1.3"/>
<text x="1194.23" y="1137.3" font-size="25.3" text-anchor="middle" >14</text>
<line x1="1229.24" y1="1106.3" x2="1229.24" y2="1111.6" stroke="#111" stroke-width="1.3"/>
<text x="1229.24" y="1137.3" font-size="25.3" text-anchor="middle" >15</text>
<rect x="992.9" y="689.7" width="286.4" height="398.6" rx="3.5" fill="#fff" fill-opacity="0.8" stroke="#cccccc" stroke-width="1.3"/>
<line x1="1000.3" y1="705.6" x2="1037.8" y2="705.6" stroke="#ff0000" stroke-width="2.1" stroke-dasharray="14.6 3.65 2.3 3.65"/>
<text x="1052.5" y="712.3" font-size="18.4" text-anchor="start" >Training MAPE(L=7)</text>
<line x1="1000.3" y1="733.68" x2="1037.8" y2="733.68" stroke="#ff0000" stroke-width="2.1" stroke-dasharray="2.3 3.8"/>
<text x="1052.5" y="740.38" font-size="18.4" text-anchor="start" >Testing MAPE(L=7)</text>
<line x1="1000.3" y1="761.76" x2="1037.8" y2="761.76" stroke="#008000" stroke-width="2.1" stroke-dasharray="14.6 3.65 2.3 3.65"/>
<text x="1052.5" y="768.46" font-size="18.4" text-anchor="start" >Training MAPE(L=8)</text>
<line x1="1000.3" y1="789.84" x2="1037.8" y2="789.84" stroke="#008000" stroke-width="2.1" stroke-dasharray="2.3 3.8"/>
<text x="1052.5" y="796.54" font-size="18.4" text-anchor="start" >Testing MAPE(L=8)</text>
<line x1="1000.3" y1="817.92" x2="1037.8" y2="817.92" stroke="#0000ff" stroke-width="2.1" stroke-dasharray="14.6 3.65 2.3 3.65"/>
<text x="1052.5" y="824.62" font-size="18.4" text-anchor="start" >Training MAPE(L=9)</text>
<line x1="1000.3" y1="846" x2="1037.8" y2="846" stroke="#0000ff" stroke-width="2.1" stroke-dasharray="2.3 3.8"/>
<text x="1052.5" y="852.7" font-size="18.4" text-anchor="start" >Testing MAPE(L=9)</text>
<line x1="1000.3" y1="874.08" x2="1037.8" y2="874.08" stroke="#00bfbf" stroke-width="2.1" stroke-dasharray="14.6 3.65 2.3 3.65"/>
<text x="1052.5" y="880.78" font-size="18.4" text-anchor="start" >Training MAPE(L=10)</text>
<line x1="1000.3" y1="902.16" x2="1037.8" y2="902.16" stroke="#00bfbf" stroke-width="2.1" stroke-dasharray="2.3 3.8"/>
<text x="1052.5" y="908.86" font-size="18.4" text-anchor="start" >Testing MAPE(L=10)</text>
<line x1="1000.3" y1="930.24" x2="1037.8" y2="930.24" stroke="#bfbf00" stroke-width="2.1" stroke-dasharray="14.6 3.65 2.3 3.65"/>
<text x="1052.5" y="936.94" font-size="18.4" text-anchor="start" >Training MAPE(L=11)</text>
<line x1="1000.3" y1="958.32" x2="1037.8" y2="958.32" stroke="#bfbf00" stroke-width="2.1" stroke-dasharray="2.3 3.8"/>
<text x="1052.5" y="965.02" font-size="18.4" text-anchor="start" >Testing MAPE(L=11)</text>
<line x1="1000.3" y1="986.4" x2="1037.8" y2="986.4" stroke="#ffc0cb" stroke-width="2.1" stroke-dasharray="14.6 3.65 2.3 3.65"/>
<text x="1052.5" y="993.1" font-size="18.4" text-anchor="start" >Training MAPE(L=12)</text>
<line x1="1000.3" y1="1014.48" x2="1037.8" y2="1014.48" stroke="#ffc0cb" stroke-width="2.1" stroke-dasharray="2.3 3.8"/>
<text x="1052.5" y="1021.18" font-size="18.4" text-anchor="start" >Testing MAPE(L=12)</text>
<line x1="1000.3" y1="1042.56" x2="1037.8" y2="1042.56" stroke="#000000" stroke-width="2.1" stroke-dasharray="14.6 3.65 2.3 3.65"/>
<text x="1052.5" y="1049.26" font-size="18.4" text-anchor="start" >Training MAPE(L=13)</text>
<line x1="1000.3" y1="1070.64" x2="1037.8" y2="1070.64" stroke="#000000" stroke-width="2.1" stroke-dasharray="2.3 3.8"/>
<text x="1052.5" y="1077.34" font-size="18.4" text-anchor="start" >Testing MAPE(L=13)</text>
<text x="1013.95" y="670" font-size="29.7" text-anchor="middle" >Metasurface Thickness 0=1.0</text>
<text x="1013.95" y="1166.5" font-size="24.9" text-anchor="middle" >Epoch</text>
<text x="0" y="0" font-size="25.7" text-anchor="middle" transform="translate(682,890.2) rotate(-90)">Mean Absolute Percentage Error</text>
<clipPath id="c6"><rect x="739.3" y="1268.4" width="549.6" height="426"/></clipPath>
<polyline points="774.3,1302.77 809.3,1682.46 844.3,1683.06 879.3,1682.27 914.3,1682.93 949.3,1684.62 984.3,1682.23 1019.3,1683.7 1054.3,1685.36 1089.3,1685.43 1124.3,1683.68 1159.3,1683.83 1194.3,1684.36 1229.3,1684.94 1264.3,1684.21" fill="none" stroke="#ff0000" stroke-width="2.1" stroke-dasharray="14.6 3.65 2.3 3.65" stroke-linejoin="round" clip-path="url(#c6)"/>
<polyline points="774.3,1582.76 809.3,1676.49 844.3,1682.46 879.3,1684.53 914.3,1682.03 949.3,1686.03 984.3,1682.46 1019.3,1682.03 1054.3,1685.47 1089.3,1681.62 1124.3,1682.64 1159.3,1681.74 1194.3,1684.66 1229.3,1684.26 1264.3,1684.17" fill="none" stroke="#ff0000" stroke-width="2.1" stroke-dasharray="2.3 3.8" stroke-linejoin="round" clip-path="url(#c6)"/>
<polyline points="774.3,1252.62 809.3,1634.7 844.3,1676.49 879.3,1679.48 914.3,1680.95 949.3,1681.76 984.3,1681.52 1019.3,1682.07 1054.3,1682.88 1089.3,1682.69 1124.3,1680.07 1159.3,1682.03 1194.3,1679.71 1229.3,1682.16 1264.3,1682.11" fill="none" stroke="#008000" stroke-width="2.1" stroke-dasharray="14.6 3.65 2.3 3.65" stroke-linejoin="round" clip-path="url(#c6)"/>
<polyline points="774.3,1417.39 809.3,1676.49 844.3,1681.27 879.3,1682.41 914.3,1683.94 949.3,1683.06 984.3,1680.28 1019.3,1680.62 1054.3,1680.97 1089.3,1681.83 1124.3,1680.49 1159.3,1680.36 1194.3,1682.22 1229.3,1681.41 1264.3,1684.61" fill="none" stroke="#008000" stroke-width="2.1" stroke-dasharray="2.3 3.8" stroke-linejoin="round" clip-path="url(#c6)"/>
<polyline points="774.3,1180.98 809.3,1406.05 844.3,1668.73 879.3,1678.88 914.3,1680.43 949.3,1681.44 984.3,1680.36 1019.3,1680.75 1054.3,1682.03 1089.3,1682.88 1124.3,1679.74 1159.3,1682.6 1194.3,1681.37 1229.3,1681.83 1264.3,1681.99" fill="none" stroke="#0000ff" stroke-width="2.1" stroke-dasharray="14.6 3.65 2.3 3.65" stroke-linejoin="round" clip-path="url(#c6)"/>
<polyline points="774.3,1276.5 809.3,1679.48 844.3,1678.88 879.3,1677.68 914.3,1674.1 949.3,1678.88 984.3,1675.3 1019.3,1678.05 1054.3,1676.63 1089.3,1680.91 1124.3,1678.54 1159.3,1680.66 1194.3,1679.13 1229.3,1680.11 1264.3,1681.46" fill="none" stroke="#0000ff" stroke-width="2.1" stroke-dasharray="2.3 3.8" stroke-linejoin="round" clip-path="url(#c6)"/>
<polyline points="774.3,1527.24 809.3,1646.64 844.3,1676.49 879.3,1680.07 914.3,1682.48 949.3,1682.31 984.3,1679.81 1019.3,1681.28 1054.3,1682.27 1089.3,1679.81 1124.3,1679.49 1159.3,1681.45 1194.3,1682.56 1229.3,1682.37 1264.3,1682.73" fill="none" stroke="#00bfbf" stroke-width="2.1" stroke-dasharray="14.6 3.65 2.3 3.65" stroke-linejoin="round" clip-path="url(#c6)"/>
<polyline points="774.3,1685.45 809.3,1670.52 844.3,1676.49 879.3,1673.51 914.3,1667.54 949.3,1676.49 984.3,1670.52 1019.3,1676.49 1054.3,1677.68 1089.3,1676.49 1124.3,1675.3 1159.3,1673.51 1194.3,1676.49 1229.3,1677.68 1264.3,1676.49" fill="none" stroke="#00bfbf" stroke-width="2.1" stroke-dasharray="2.3 3.8" stroke-linejoin="round" clip-path="url(#c6)"/>
<polyline points="774.3,1472.91 809.3,1681.27 844.3,1682.46 879.3,1683.62 914.3,1684.52 949.3,1683.99 984.3,1683.92 1019.3,1682.81 1054.3,1681.67 1089.3,1682.16 1124.3,1683.37 1159.3,1683.37 1194.3,1682.97 1229.3,1683.5 1264.3,1683.64" fill="none" stroke="#bfbf00" stroke-width="2.1" stroke-dasharray="14.6 3.65 2.3 3.65" stroke-linejoin="round" clip-path="url(#c6)"/>
<polyline points="774.3,1679.48 809.3,1682.46 844.3,1683.65 879.3,1685.22 914.3,1684.45 949.3,1681.98 984.3,1684.99 1019.3,1683.64 1054.3,1683.19 1089.3,1682.35 1124.3,1684.67 1159.3,1684.47 1194.3,1684.56 1229.3,1684.01 1264.3,1683.85" fill="none" stroke="#bfbf00" stroke-width="2.1" stroke-dasharray="2.3 3.8" stroke-linejoin="round" clip-path="url(#c6)"/>
<polyline points="774.3,1270.53 809.3,1681.27 844.3,1682.46 879.3,1681.43 914.3,1681.81 949.3,1681.72 984.3,1684.77 1019.3,1684.73 1054.3,1682.31 1089.3,1681.64 1124.3,1683.15 1159.3,1682.74 1194.3,1684.85 1229.3,1683.45 1264.3,1681.53" fill="none" stroke="#ffc0cb" stroke-width="2.1" stroke-dasharray="14.6 3.65 2.3 3.65" stroke-linejoin="round" clip-path="url(#c6)"/>
<polyline points="774.3,1661.57 809.3,1676.49 844.3,1679.48 879.3,1678.88 914.3,1677.68 949.3,1677.68 984.3,1676.49 1019.3,1674.1 1054.3,1675.3 1089.3,1673.51 1124.3,1670.52 1159.3,1671.71 1194.3,1672.91 1229.3,1673.51 1264.3,1670.52" fill="none" stroke="#ffc0cb" stroke-width="2.1" stroke-dasharray="2.3 3.8" stroke-linejoin="round" clip-path="url(#c6)"/>
<polyline points="774.3,1348.74 809.3,1640.67 844.3,1676.49 879.3,1681.29 914.3,1681.19 949.3,1680.77 984.3,1683.36 1019.3,1683.86 1054.3,1683.7 1089.3,1682.38 1124.3,1681.81 1159.3,1680.88 1194.3,1681.67 1229.3,1681.93 1264.3,1681.51" fill="none" stroke="#000000" stroke-width="2.1" stroke-dasharray="14.6 3.65 2.3 3.65" stroke-linejoin="round" clip-path="url(#c6)"/>
<polyline points="774.3,1683.65 809.3,1679.48 844.3,1677.68 879.3,1676.49 914.3,1672.91 949.3,1676.49 984.3,1678.88 1019.3,1676.49 1054.3,1679.13 1089.3,1678.57 1124.3,1681.63 1159.3,1677.19 1194.3,1680.47 1229.3,1676.37 1264.3,1678.01" fill="none" stroke="#000000" stroke-width="2.1" stroke-dasharray="2.3 3.8" stroke-linejoin="round" clip-path="url(#c6)"/>
<line x1="739.3" y1="1268.4" x2="739.3" y2="1694.4" stroke="#666" stroke-width="1.2" stroke-linecap="square"/>
<line x1="1288.9" y1="1268.4" x2="1288.9" y2="1694.4" stroke="#111" stroke-width="1.3" stroke-linecap="square"/>
<line x1="739.3" y1="1268.4" x2="1288.9" y2="1268.4" stroke="#111" stroke-width="1.3" stroke-linecap="square"/>
<line x1="739.3" y1="1694.4" x2="1288.9" y2="1694.4" stroke="#111" stroke-width="1.3" stroke-linecap="square"/>
<line x1="734" y1="1694.4" x2="739.3" y2="1694.4" stroke="#111" stroke-width="1.3"/>
<text x="728.8" y="1704.6" font-size="25.3" text-anchor="end" >0</text>
<line x1="734" y1="1634.7" x2="739.3" y2="1634.7" stroke="#111" stroke-width="1.3"/>
<text x="728.8" y="1644.9" font-size="25.3" text-anchor="end" >10</text>
<line x1="734" y1="1575" x2="739.3" y2="1575" stroke="#111" stroke-width="1.3"/>
<text x="728.8" y="1585.2" font-size="25.3" text-anchor="end" >20</text>
<line x1="734" y1="1515.3" x2="739.3" y2="1515.3" stroke="#111" stroke-width="1.3"/>
<text x="728.8" y="1525.5" font-size="25.3" text-anchor="end" >30</text>
<line x1="734" y1="1455.6" x2="739.3" y2="1455.6" stroke="#111" stroke-width="1.3"/>
<text x="728.8" y="1465.8" font-size="25.3" text-anchor="end" >40</text>
<line x1="734" y1="1395.9" x2="739.3" y2="1395.9" stroke="#111" stroke-width="1.3"/>
<text x="728.8" y="1406.1" font-size="25.3" text-anchor="end" >50</text>
<line x1="734" y1="1336.2" x2="739.3" y2="1336.2" stroke="#111" stroke-width="1.3"/>
<text x="728.8" y="1346.4" font-size="25.3" text-anchor="end" >60</text>
<line x1="734" y1="1276.5" x2="739.3" y2="1276.5" stroke="#111" stroke-width="1.3"/>
<text x="728.8" y="1286.7" font-size="25.3" text-anchor="end" >70</text>
<line x1="739.3" y1="1694.4" x2="739.3" y2="1699.7" stroke="#111" stroke-width="1.3"/>
<text x="739.3" y="1725.4" font-size="25.3" text-anchor="middle" >1</text>
<line x1="774.3" y1="1694.4" x2="774.3" y2="1699.7" stroke="#111" stroke-width="1.3"/>
<text x="774.3" y="1725.4" font-size="25.3" text-anchor="middle" >2</text>
<line x1="809.3" y1="1694.4" x2="809.3" y2="1699.7" stroke="#111" stroke-width="1.3"/>
<text x="809.3" y="1725.4" font-size="25.3" text-anchor="middle" >3</text>
<line x1="844.3" y1="1694.4" x2="844.3" y2="1699.7" stroke="#111" stroke-width="1.3"/>
<text x="844.3" y="1725.4" font-size="25.3" text-anchor="middle" >4</text>
<line x1="879.3" y1="1694.4" x2="879.3" y2="1699.7" stroke="#111" stroke-width="1.3"/>
<text x="879.3" y="1725.4" font-size="25.3" text-anchor="middle" >5</text>
<line x1="914.3" y1="1694.4" x2="914.3" y2="1699.7" stroke="#111" stroke-width="1.3"/>
<text x="914.3" y="1725.4" font-size="25.3" text-anchor="middle" >6</text>
<line x1="949.3" y1="1694.4" x2="949.3" y2="1699.7" stroke="#111" stroke-width="1.3"/>
<text x="949.3" y="1725.4" font-size="25.3" text-anchor="middle" >7</text>
<line x1="984.3" y1="1694.4" x2="984.3" y2="1699.7" stroke="#111" stroke-width="1.3"/>
<text x="984.3" y="1725.4" font-size="25.3" text-anchor="middle" >8</text>
<line x1="1019.3" y1="1694.4" x2="1019.3" y2="1699.7" stroke="#111" stroke-width="1.3"/>
<text x="1019.3" y="1725.4" font-size="25.3" text-anchor="middle" >9</text>
<line x1="1054.3" y1="1694.4" x2="1054.3" y2="1699.7" stroke="#111" stroke-width="1.3"/>
<text x="1054.3" y="1725.4" font-size="25.3" text-anchor="middle" >10</text>
<line x1="1089.3" y1="1694.4" x2="1089.3" y2="1699.7" stroke="#111" stroke-width="1.3"/>
<text x="1089.3" y="1725.4" font-size="25.3" text-anchor="middle" >11</text>
<line x1="1124.3" y1="1694.4" x2="1124.3" y2="1699.7" stroke="#111" stroke-width="1.3"/>
<text x="1124.3" y="1725.4" font-size="25.3" text-anchor="middle" >12</text>
<line x1="1159.3" y1="1694.4" x2="1159.3" y2="1699.7" stroke="#111" stroke-width="1.3"/>
<text x="1159.3" y="1725.4" font-size="25.3" text-anchor="middle" >13</text>
<line x1="1194.3" y1="1694.4" x2="1194.3" y2="1699.7" stroke="#111" stroke-width="1.3"/>
<text x="1194.3" y="1725.4" font-size="25.3" text-anchor="middle" >14</text>
<line x1="1229.3" y1="1694.4" x2="1229.3" y2="1699.7" stroke="#111" stroke-width="1.3"/>
<text x="1229.3" y="1725.4" font-size="25.3" text-anchor="middle" >15</text>
<rect x="993.5" y="1277.1" width="285.7" height="398.1" rx="3.5" fill="#fff" fill-opacity="0.8" stroke="#cccccc" stroke-width="1.3"/>
<line x1="1001.3" y1="1292.9" x2="1037.9" y2="1292.9" stroke="#ff0000" stroke-width="2.1" stroke-dasharray="14.6 3.65 2.3 3.65"/>
<text x="1052.6" y="1299.6" font-size="18.4" text-anchor="start" >Training MAPE(L=7)</text>
<line x1="1001.3" y1="1321" x2="1037.9" y2="1321" stroke="#ff0000" stroke-width="2.1" stroke-dasharray="2.3 3.8"/>
<text x="1052.6" y="1327.7" font-size="18.4" text-anchor="start" >Testing MAPE(L=7)</text>
<line x1="1001.3" y1="1349.1" x2="1037.9" y2="1349.1" stroke="#008000" stroke-width="2.1" stroke-dasharray="14.6 3.65 2.3 3.65"/>
<text x="1052.6" y="1355.8" font-size="18.4" text-anchor="start" >Training MAPE(L=8)</text>
<line x1="1001.3" y1="1377.2" x2="1037.9" y2="1377.2" stroke="#008000" stroke-width="2.1" stroke-dasharray="2.3 3.8"/>
<text x="1052.6" y="1383.9" font-size="18.4" text-anchor="start" >Testing MAPE(L=8)</text>
<line x1="1001.3" y1="1405.3" x2="1037.9" y2="1405.3" stroke="#0000ff" stroke-width="2.1" stroke-dasharray="14.6 3.65 2.3 3.65"/>
<text x="1052.6" y="1412" font-size="18.4" text-anchor="start" >Training MAPE(L=9)</text>
<line x1="1001.3" y1="1433.4" x2="1037.9" y2="1433.4" stroke="#0000ff" stroke-width="2.1" stroke-dasharray="2.3 3.8"/>
<text x="1052.6" y="1440.1" font-size="18.4" text-anchor="start" >Testing MAPE(L=9)</text>
<line x1="1001.3" y1="1461.5" x2="1037.9" y2="1461.5" stroke="#00bfbf" stroke-width="2.1" stroke-dasharray="14.6 3.65 2.3 3.65"/>
<text x="1052.6" y="1468.2" font-size="18.4" text-anchor="start" >Training MAPE(L=10)</text>
<line x1="1001.3" y1="1489.6" x2="1037.9" y2="1489.6" stroke="#00bfbf" stroke-width="2.1" stroke-dasharray="2.3 3.8"/>
<text x="1052.6" y="1496.3" font-size="18.4" text-anchor="start" >Testing MAPE(L=10)</text>
<line x1="1001.3" y1="1517.7" x2="1037.9" y2="1517.7" stroke="#bfbf00" stroke-width="2.1" stroke-dasharray="14.6 3.65 2.3 3.65"/>
<text x="1052.6" y="1524.4" font-size="18.4" text-anchor="start" >Training MAPE(L=11)</text>
<line x1="1001.3" y1="1545.8" x2="1037.9" y2="1545.8" stroke="#bfbf00" stroke-width="2.1" stroke-dasharray="2.3 3.8"/>
<text x="1052.6" y="1552.5" font-size="18.4" text-anchor="start" >Testing MAPE(L=11)</text>
<line x1="1001.3" y1="1573.9" x2="1037.9" y2="1573.9" stroke="#ffc0cb" stroke-width="2.1" stroke-dasharray="14.6 3.65 2.3 3.65"/>
<text x="1052.6" y="1580.6" font-size="18.4" text-anchor="start" >Training MAPE(L=12)</text>
<line x1="1001.3" y1="1602" x2="1037.9" y2="1602" stroke="#ffc0cb" stroke-width="2.1" stroke-dasharray="2.3 3.8"/>
<text x="1052.6" y="1608.7" font-size="18.4" text-anchor="start" >Testing MAPE(L=12)</text>
<line x1="1001.3" y1="1630.1" x2="1037.9" y2="1630.1" stroke="#000000" stroke-width="2.1" stroke-dasharray="14.6 3.65 2.3 3.65"/>
<text x="1052.6" y="1636.8" font-size="18.4" text-anchor="start" >Training MAPE(L=13)</text>
<line x1="1001.3" y1="1658.2" x2="1037.9" y2="1658.2" stroke="#000000" stroke-width="2.1" stroke-dasharray="2.3 3.8"/>
<text x="1052.6" y="1664.9" font-size="18.4" text-anchor="start" >Testing MAPE(L=13)</text>
<text x="1014.1" y="1258" font-size="29.7" text-anchor="middle" >Metasurface Thickness 0=1.5</text>
<text x="1014.1" y="1756.5" font-size="24.9" text-anchor="middle" >Epoch</text>
<text x="0" y="0" font-size="25.7" text-anchor="middle" transform="translate(682,1478.4) rotate(-90)">Mean Absolute Percentage Error</text>
<clipPath id="c7"><rect x="1433.9" y="92.1" width="550.6" height="425.9"/></clipPath>
<circle cx="1686.7" cy="210.9" r="5.3" fill="#ff0000" clip-path="url(#c7)"/>
<circle cx="1702.4" cy="204.3" r="5.3" fill="#ff0000" clip-path="url(#c7)"/>
<circle cx="1737.1" cy="190.3" r="5.3" fill="#ff0000" clip-path="url(#c7)"/>
<circle cx="1762.1" cy="180" r="5.3" fill="#ff0000" clip-path="url(#c7)"/>
<circle cx="1757.7" cy="196.1" r="5.3" fill="#ff0000" clip-path="url(#c7)"/>
<circle cx="1776.1" cy="163" r="5.3" fill="#ff0000" clip-path="url(#c7)"/>
<circle cx="1773.2" cy="204.3" r="5.3" fill="#ff0000" clip-path="url(#c7)"/>
<circle cx="1784.3" cy="157.1" r="5.3" fill="#ff0000" clip-path="url(#c7)"/>
<circle cx="1784.3" cy="202.8" r="5.3" fill="#ff0000" clip-path="url(#c7)"/>
<circle cx="1795.3" cy="170.3" r="5.3" fill="#ff0000" clip-path="url(#c7)"/>
<circle cx="1801.2" cy="178.5" r="5.3" fill="#ff0000" clip-path="url(#c7)"/>
<circle cx="1801.2" cy="206.5" r="5.3" fill="#ff0000" clip-path="url(#c7)"/>
<circle cx="1817.4" cy="151.2" r="5.3" fill="#ff0000" clip-path="url(#c7)"/>
<circle cx="1821.1" cy="128.3" r="5.3" fill="#ff0000" clip-path="url(#c7)"/>
<circle cx="1821.1" cy="174" r="5.3" fill="#ff0000" clip-path="url(#c7)"/>
<circle cx="1826" cy="174" r="5.3" fill="#ff0000" clip-path="url(#c7)"/>
<circle cx="1833.6" cy="120.2" r="5.3" fill="#ff0000" clip-path="url(#c7)"/>
<circle cx="1841.8" cy="136.4" r="5.3" fill="#ff0000" clip-path="url(#c7)"/>
<circle cx="1841.8" cy="177" r="5.3" fill="#ff0000" clip-path="url(#c7)"/>
<circle cx="1857.8" cy="146.5" r="5.3" fill="#ff0000" clip-path="url(#c7)"/>
<circle cx="1869" cy="141.1" r="5.3" fill="#ff0000" clip-path="url(#c7)"/>
<circle cx="1873.9" cy="112.4" r="5.3" fill="#ff0000" clip-path="url(#c7)"/>
<circle cx="1879.2" cy="144" r="5.3" fill="#ff0000" clip-path="url(#c7)"/>
<circle cx="1918.2" cy="109.5" r="5.3" fill="#ff0000" clip-path="url(#c7)"/>
<circle cx="1686.7" cy="233.7" r="5.3" fill="#008000" clip-path="url(#c7)"/>
<circle cx="1702.4" cy="231.5" r="5.3" fill="#008000" clip-path="url(#c7)"/>
<circle cx="1737.1" cy="206.5" r="5.3" fill="#008000" clip-path="url(#c7)"/>
<circle cx="1737.1" cy="230" r="5.3" fill="#008000" clip-path="url(#c7)"/>
<circle cx="1762.1" cy="200.6" r="5.3" fill="#008000" clip-path="url(#c7)"/>
<circle cx="1757.7" cy="211.6" r="5.3" fill="#008000" clip-path="url(#c7)"/>
<circle cx="1776.1" cy="178.5" r="5.3" fill="#008000" clip-path="url(#c7)"/>
<circle cx="1773.2" cy="228.6" r="5.3" fill="#008000" clip-path="url(#c7)"/>
<circle cx="1784.3" cy="171.1" r="5.3" fill="#008000" clip-path="url(#c7)"/>
<circle cx="1784.3" cy="216.8" r="5.3" fill="#008000" clip-path="url(#c7)"/>
<circle cx="1795.3" cy="182.9" r="5.3" fill="#008000" clip-path="url(#c7)"/>
<circle cx="1804.4" cy="222" r="5.3" fill="#008000" clip-path="url(#c7)"/>
<circle cx="1817.4" cy="163" r="5.3" fill="#008000" clip-path="url(#c7)"/>
<circle cx="1821.1" cy="137.2" r="5.3" fill="#008000" clip-path="url(#c7)"/>
<circle cx="1833.6" cy="126.9" r="5.3" fill="#008000" clip-path="url(#c7)"/>
<circle cx="1833.6" cy="191.7" r="5.3" fill="#008000" clip-path="url(#c7)"/>
<circle cx="1841.8" cy="145.3" r="5.3" fill="#008000" clip-path="url(#c7)"/>
<circle cx="1841.8" cy="188.8" r="5.3" fill="#008000" clip-path="url(#c7)"/>
<circle cx="1857.8" cy="156.3" r="5.3" fill="#008000" clip-path="url(#c7)"/>
<circle cx="1869" cy="148" r="5.3" fill="#008000" clip-path="url(#c7)"/>
<circle cx="1873.9" cy="116.3" r="5.3" fill="#008000" clip-path="url(#c7)"/>
<circle cx="1879.2" cy="151.9" r="5.3" fill="#008000" clip-path="url(#c7)"/>
<circle cx="1918.2" cy="116.3" r="5.3" fill="#008000" clip-path="url(#c7)"/>
<circle cx="1686.7" cy="311.9" r="5.3" fill="#0000ff" clip-path="url(#c7)"/>
<circle cx="1702.4" cy="306.7" r="5.3" fill="#0000ff" clip-path="url(#c7)"/>
<circle cx="1737.1" cy="275.8" r="5.3" fill="#0000ff" clip-path="url(#c7)"/>
<circle cx="1737.1" cy="299.4" r="5.3" fill="#0000ff" clip-path="url(#c7)"/>
<circle cx="1762.1" cy="267.6" r="5.3" fill="#0000ff" clip-path="url(#c7)"/>
<circle cx="1757.7" cy="288" r="5.3" fill="#0000ff" clip-path="url(#c7)"/>
<circle cx="1776.1" cy="244" r="5.3" fill="#0000ff" clip-path="url(#c7)"/>
<circle cx="1773.2" cy="295.7" r="5.3" fill="#0000ff" clip-path="url(#c7)"/>
<circle cx="1784.3" cy="233.7" r="5.3" fill="#0000ff" clip-path="url(#c7)"/>
<circle cx="1801.2" cy="259.5" r="5.3" fill="#0000ff" clip-path="url(#c7)"/>
<circle cx="1801.2" cy="292.7" r="5.3" fill="#0000ff" clip-path="url(#c7)"/>
<circle cx="1804.4" cy="290" r="5.3" fill="#0000ff" clip-path="url(#c7)"/>
<circle cx="1817.4" cy="222.6" r="5.3" fill="#0000ff" clip-path="url(#c7)"/>
<circle cx="1821.1" cy="193.2" r="5.3" fill="#0000ff" clip-path="url(#c7)"/>
<circle cx="1826" cy="258" r="5.3" fill="#0000ff" clip-path="url(#c7)"/>
<circle cx="1833.6" cy="258.8" r="5.3" fill="#0000ff" clip-path="url(#c7)"/>
<circle cx="1841.8" cy="206.5" r="5.3" fill="#0000ff" clip-path="url(#c7)"/>
<circle cx="1841.8" cy="258" r="5.3" fill="#0000ff" clip-path="url(#c7)"/>
<circle cx="1857.8" cy="215.8" r="5.3" fill="#0000ff" clip-path="url(#c7)"/>
<circle cx="1869" cy="212.8" r="5.3" fill="#0000ff" clip-path="url(#c7)"/>
<circle cx="1873.9" cy="176" r="5.3" fill="#0000ff" clip-path="url(#c7)"/>
<circle cx="1879.2" cy="217" r="5.3" fill="#0000ff" clip-path="url(#c7)"/>
<circle cx="1918.2" cy="175.8" r="5.3" fill="#0000ff" clip-path="url(#c7)"/>
<circle cx="1686.7" cy="214.6" r="5.3" fill="#00bfbf" clip-path="url(#c7)"/>
<circle cx="1702.4" cy="210.2" r="5.3" fill="#00bfbf" clip-path="url(#c7)"/>
<circle cx="1737.1" cy="178.5" r="5.3" fill="#00bfbf" clip-path="url(#c7)"/>
<circle cx="1737.1" cy="184.4" r="5.3" fill="#00bfbf" clip-path="url(#c7)"/>
<circle cx="1737.1" cy="203.5" r="5.3" fill="#00bfbf" clip-path="url(#c7)"/>
<circle cx="1762.1" cy="171.1" r="5.3" fill="#00bfbf" clip-path="url(#c7)"/>
<circle cx="1757.7" cy="190.3" r="5.3" fill="#00bfbf" clip-path="url(#c7)"/>
<circle cx="1776.1" cy="146" r="5.3" fill="#00bfbf" clip-path="url(#c7)"/>
<circle cx="1773.2" cy="199.1" r="5.3" fill="#00bfbf" clip-path="url(#c7)"/>
<circle cx="1784.3" cy="136.4" r="5.3" fill="#00bfbf" clip-path="url(#c7)"/>
<circle cx="1784.3" cy="191.7" r="5.3" fill="#00bfbf" clip-path="url(#c7)"/>
<circle cx="1795.3" cy="156.3" r="5.3" fill="#00bfbf" clip-path="url(#c7)"/>
<circle cx="1801.2" cy="166.7" r="5.3" fill="#00bfbf" clip-path="url(#c7)"/>
<circle cx="1801.2" cy="194.7" r="5.3" fill="#00bfbf" clip-path="url(#c7)"/>
<circle cx="1804.4" cy="193.3" r="5.3" fill="#00bfbf" clip-path="url(#c7)"/>
<circle cx="1817.4" cy="129.8" r="5.3" fill="#00bfbf" clip-path="url(#c7)"/>
<circle cx="1821.1" cy="101.8" r="5.3" fill="#00bfbf" clip-path="url(#c7)"/>
<circle cx="1826" cy="163.7" r="5.3" fill="#00bfbf" clip-path="url(#c7)"/>
<circle cx="1833.6" cy="95.9" r="5.3" fill="#00bfbf" clip-path="url(#c7)"/>
<circle cx="1833.6" cy="163.7" r="5.3" fill="#00bfbf" clip-path="url(#c7)"/>
<circle cx="1841.8" cy="111.4" r="5.3" fill="#00bfbf" clip-path="url(#c7)"/>
<circle cx="1841.8" cy="163.7" r="5.3" fill="#00bfbf" clip-path="url(#c7)"/>
<circle cx="1857.8" cy="127.5" r="5.3" fill="#00bfbf" clip-path="url(#c7)"/>
<circle cx="1869" cy="120.7" r="5.3" fill="#00bfbf" clip-path="url(#c7)"/>
<circle cx="1873.9" cy="93.9" r="5.3" fill="#00bfbf" clip-path="url(#c7)"/>
<circle cx="1879.2" cy="125.5" r="5.3" fill="#00bfbf" clip-path="url(#c7)"/>
<circle cx="1918.2" cy="93.9" r="5.3" fill="#00bfbf" clip-path="url(#c7)"/>
<circle cx="1686.7" cy="309.7" r="5.3" fill="#bfbf00" clip-path="url(#c7)"/>
<circle cx="1702.4" cy="296.4" r="5.3" fill="#bfbf00" clip-path="url(#c7)"/>
<circle cx="1737.1" cy="269.1" r="5.3" fill="#bfbf00" clip-path="url(#c7)"/>
<circle cx="1737.1" cy="281.7" r="5.3" fill="#bfbf00" clip-path="url(#c7)"/>
<circle cx="1762.1" cy="256.6" r="5.3" fill="#bfbf00" clip-path="url(#c7)"/>
<circle cx="1757.7" cy="289" r="5.3" fill="#bfbf00" clip-path="url(#c7)"/>
<circle cx="1776.1" cy="242.6" r="5.3" fill="#bfbf00" clip-path="url(#c7)"/>
<circle cx="1773.2" cy="280.2" r="5.3" fill="#bfbf00" clip-path="url(#c7)"/>
<circle cx="1784.3" cy="228.6" r="5.3" fill="#bfbf00" clip-path="url(#c7)"/>
<circle cx="1784.3" cy="290.5" r="5.3" fill="#bfbf00" clip-path="url(#c7)"/>
<circle cx="1795.3" cy="252.2" r="5.3" fill="#bfbf00" clip-path="url(#c7)"/>
<circle cx="1801.2" cy="250.7" r="5.3" fill="#bfbf00" clip-path="url(#c7)"/>
<circle cx="1804.4" cy="287.6" r="5.3" fill="#bfbf00" clip-path="url(#c7)"/>
<circle cx="1817.4" cy="218.3" r="5.3" fill="#bfbf00" clip-path="url(#c7)"/>
<circle cx="1821.1" cy="198.4" r="5.3" fill="#bfbf00" clip-path="url(#c7)"/>
<circle cx="1826" cy="256.6" r="5.3" fill="#bfbf00" clip-path="url(#c7)"/>
<circle cx="1833.6" cy="185.8" r="5.3" fill="#bfbf00" clip-path="url(#c7)"/>
<circle cx="1833.6" cy="250" r="5.3" fill="#bfbf00" clip-path="url(#c7)"/>
<circle cx="1841.8" cy="212.4" r="5.3" fill="#bfbf00" clip-path="url(#c7)"/>
<circle cx="1841.8" cy="255.1" r="5.3" fill="#bfbf00" clip-path="url(#c7)"/>
<circle cx="1857.8" cy="213.8" r="5.3" fill="#bfbf00" clip-path="url(#c7)"/>
<circle cx="1869" cy="216.7" r="5.3" fill="#bfbf00" clip-path="url(#c7)"/>
<circle cx="1873.9" cy="173.8" r="5.3" fill="#bfbf00" clip-path="url(#c7)"/>
<circle cx="1879.2" cy="215.2" r="5.3" fill="#bfbf00" clip-path="url(#c7)"/>
<circle cx="1918.2" cy="172.8" r="5.3" fill="#bfbf00" clip-path="url(#c7)"/>
<circle cx="1686.7" cy="283.9" r="5.3" fill="#ffc0cb" clip-path="url(#c7)"/>
<circle cx="1702.4" cy="273.5" r="5.3" fill="#ffc0cb" clip-path="url(#c7)"/>
<circle cx="1737.1" cy="247.7" r="5.3" fill="#ffc0cb" clip-path="url(#c7)"/>
<circle cx="1737.1" cy="258" r="5.3" fill="#ffc0cb" clip-path="url(#c7)"/>
<circle cx="1737.1" cy="265.4" r="5.3" fill="#ffc0cb" clip-path="url(#c7)"/>
<circle cx="1762.1" cy="238.9" r="5.3" fill="#ffc0cb" clip-path="url(#c7)"/>
<circle cx="1757.7" cy="266.9" r="5.3" fill="#ffc0cb" clip-path="url(#c7)"/>
<circle cx="1776.1" cy="222" r="5.3" fill="#ffc0cb" clip-path="url(#c7)"/>
<circle cx="1784.3" cy="212.4" r="5.3" fill="#ffc0cb" clip-path="url(#c7)"/>
<circle cx="1784.3" cy="272.1" r="5.3" fill="#ffc0cb" clip-path="url(#c7)"/>
<circle cx="1795.3" cy="233" r="5.3" fill="#ffc0cb" clip-path="url(#c7)"/>
<circle cx="1801.2" cy="237.4" r="5.3" fill="#ffc0cb" clip-path="url(#c7)"/>
<circle cx="1804.4" cy="270.6" r="5.3" fill="#ffc0cb" clip-path="url(#c7)"/>
<circle cx="1817.4" cy="205.7" r="5.3" fill="#ffc0cb" clip-path="url(#c7)"/>
<circle cx="1821.1" cy="183.6" r="5.3" fill="#ffc0cb" clip-path="url(#c7)"/>
<circle cx="1826" cy="238.9" r="5.3" fill="#ffc0cb" clip-path="url(#c7)"/>
<circle cx="1833.6" cy="174" r="5.3" fill="#ffc0cb" clip-path="url(#c7)"/>
<circle cx="1833.6" cy="238.9" r="5.3" fill="#ffc0cb" clip-path="url(#c7)"/>
<circle cx="1841.8" cy="194.7" r="5.3" fill="#ffc0cb" clip-path="url(#c7)"/>
<circle cx="1841.8" cy="240.4" r="5.3" fill="#ffc0cb" clip-path="url(#c7)"/>
<circle cx="1857.8" cy="203.1" r="5.3" fill="#ffc0cb" clip-path="url(#c7)"/>
<circle cx="1869" cy="203.1" r="5.3" fill="#ffc0cb" clip-path="url(#c7)"/>
<circle cx="1873.9" cy="166" r="5.3" fill="#ffc0cb" clip-path="url(#c7)"/>
<circle cx="1879.2" cy="203.1" r="5.3" fill="#ffc0cb" clip-path="url(#c7)"/>
<circle cx="1918.2" cy="165" r="5.3" fill="#ffc0cb" clip-path="url(#c7)"/>
<circle cx="1686.7" cy="334.7" r="5.3" fill="#000000" clip-path="url(#c7)"/>
<circle cx="1702.4" cy="324.4" r="5.3" fill="#000000" clip-path="url(#c7)"/>
<circle cx="1737.1" cy="294.2" r="5.3" fill="#000000" clip-path="url(#c7)"/>
<circle cx="1737.1" cy="302.3" r="5.3" fill="#000000" clip-path="url(#c7)"/>
<circle cx="1737.1" cy="317.8" r="5.3" fill="#000000" clip-path="url(#c7)"/>
<circle cx="1762.1" cy="286.8" r="5.3" fill="#000000" clip-path="url(#c7)"/>
<circle cx="1757.7" cy="312.6" r="5.3" fill="#000000" clip-path="url(#c7)"/>
<circle cx="1776.1" cy="262.5" r="5.3" fill="#000000" clip-path="url(#c7)"/>
<circle cx="1773.2" cy="315.6" r="5.3" fill="#000000" clip-path="url(#c7)"/>
<circle cx="1784.3" cy="252.2" r="5.3" fill="#000000" clip-path="url(#c7)"/>
<circle cx="1784.3" cy="317" r="5.3" fill="#000000" clip-path="url(#c7)"/>
<circle cx="1795.3" cy="270.6" r="5.3" fill="#000000" clip-path="url(#c7)"/>
<circle cx="1795.3" cy="317" r="5.3" fill="#000000" clip-path="url(#c7)"/>
<circle cx="1801.2" cy="281.7" r="5.3" fill="#000000" clip-path="url(#c7)"/>
<circle cx="1801.2" cy="318.5" r="5.3" fill="#000000" clip-path="url(#c7)"/>
<circle cx="1817.4" cy="243.3" r="5.3" fill="#000000" clip-path="url(#c7)"/>
<circle cx="1821.1" cy="218.3" r="5.3" fill="#000000" clip-path="url(#c7)"/>
<circle cx="1826" cy="277.2" r="5.3" fill="#000000" clip-path="url(#c7)"/>
<circle cx="1833.6" cy="205" r="5.3" fill="#000000" clip-path="url(#c7)"/>
<circle cx="1833.6" cy="280.9" r="5.3" fill="#000000" clip-path="url(#c7)"/>
<circle cx="1841.8" cy="227.1" r="5.3" fill="#000000" clip-path="url(#c7)"/>
<circle cx="1841.8" cy="280.2" r="5.3" fill="#000000" clip-path="url(#c7)"/>
<circle cx="1857.8" cy="237.7" r="5.3" fill="#000000" clip-path="url(#c7)"/>
<circle cx="1869" cy="232.3" r="5.3" fill="#000000" clip-path="url(#c7)"/>
<circle cx="1873.9" cy="196.7" r="5.3" fill="#000000" clip-path="url(#c7)"/>
<circle cx="1879.2" cy="235.2" r="5.3" fill="#000000" clip-path="url(#c7)"/>
<circle cx="1918.2" cy="192.8" r="5.3" fill="#000000" clip-path="url(#c7)"/>
<line x1="1433.9" y1="518" x2="1984.5" y2="92.1" stroke="#1c6ea8" stroke-width="1.9" clip-path="url(#c7)"/>
<line x1="1433.9" y1="92.1" x2="1433.9" y2="518" stroke="#111" stroke-width="1.3" stroke-linecap="square"/>
<line x1="1984.5" y1="92.1" x2="1984.5" y2="518" stroke="#111" stroke-width="1.3" stroke-linecap="square"/>
<line x1="1433.9" y1="92.1" x2="1984.5" y2="92.1" stroke="#111" stroke-width="1.3" stroke-linecap="square"/>
<line x1="1433.9" y1="518" x2="1984.5" y2="518" stroke="#111" stroke-width="1.3" stroke-linecap="square"/>
<line x1="1428.6" y1="474" x2="1433.9" y2="474" stroke="#111" stroke-width="1.3"/>
<text x="1423.4" y="484.2" font-size="25.3" text-anchor="end" >0.700</text>
<line x1="1428.6" y1="413.28" x2="1433.9" y2="413.28" stroke="#111" stroke-width="1.3"/>
<text x="1423.4" y="423.48" font-size="25.3" text-anchor="end" >0.725</text>
<line x1="1428.6" y1="352.56" x2="1433.9" y2="352.56" stroke="#111" stroke-width="1.3"/>
<text x="1423.4" y="362.76" font-size="25.3" text-anchor="end" >0.750</text>
<line x1="1428.6" y1="291.85" x2="1433.9" y2="291.85" stroke="#111" stroke-width="1.3"/>
<text x="1423.4" y="302.05" font-size="25.3" text-anchor="end" >0.775</text>
<line x1="1428.6" y1="231.13" x2="1433.9" y2="231.13" stroke="#111" stroke-width="1.3"/>
<text x="1423.4" y="241.33" font-size="25.3" text-anchor="end" >0.800</text>
<line x1="1428.6" y1="170.41" x2="1433.9" y2="170.41" stroke="#111" stroke-width="1.3"/>
<text x="1423.4" y="180.61" font-size="25.3" text-anchor="end" >0.825</text>
<line x1="1428.6" y1="109.69" x2="1433.9" y2="109.69" stroke="#111" stroke-width="1.3"/>
<text x="1423.4" y="119.89" font-size="25.3" text-anchor="end" >0.850</text>
<line x1="1492.7" y1="518" x2="1492.7" y2="523.3" stroke="#111" stroke-width="1.3"/>
<text x="1492.7" y="549" font-size="25.3" text-anchor="middle" >0.70</text>
<line x1="1648.6" y1="518" x2="1648.6" y2="523.3" stroke="#111" stroke-width="1.3"/>
<text x="1648.6" y="549" font-size="25.3" text-anchor="middle" >0.75</text>
<line x1="1804.5" y1="518" x2="1804.5" y2="523.3" stroke="#111" stroke-width="1.3"/>
<text x="1804.5" y="549" font-size="25.3" text-anchor="middle" >0.80</text>
<line x1="1960.4" y1="518" x2="1960.4" y2="523.3" stroke="#111" stroke-width="1.3"/>
<text x="1960.4" y="549" font-size="25.3" text-anchor="middle" >0.85</text>
<rect x="1442.7" y="101.6" width="180.7" height="201.5" rx="3.5" fill="#fff" fill-opacity="0.8" stroke="#cccccc" stroke-width="1.3"/>
<circle cx="1469" cy="118.7" r="5.4" fill="#ff0000"/>
<text x="1501.8" y="124.2" font-size="18.4" text-anchor="start" >Length=7</text>
<circle cx="1469" cy="146.9" r="5.4" fill="#008000"/>
<text x="1501.8" y="152.4" font-size="18.4" text-anchor="start" >Length=8</text>
<circle cx="1469" cy="175.1" r="5.4" fill="#0000ff"/>
<text x="1501.8" y="180.6" font-size="18.4" text-anchor="start" >Length=9</text>
<circle cx="1469" cy="203.3" r="5.4" fill="#00bfbf"/>
<text x="1501.8" y="208.8" font-size="18.4" text-anchor="start" >Length=10</text>
<circle cx="1469" cy="231.5" r="5.4" fill="#bfbf00"/>
<text x="1501.8" y="237" font-size="18.4" text-anchor="start" >Length=11</text>
<circle cx="1469" cy="259.7" r="5.4" fill="#ffc0cb"/>
<text x="1501.8" y="265.2" font-size="18.4" text-anchor="start" >Length=12</text>
<circle cx="1469" cy="287.9" r="5.4" fill="#000000"/>
<text x="1501.8" y="293.4" font-size="18.4" text-anchor="start" >Length=13</text>
<text x="1709.2" y="82.5" font-size="29.7" text-anchor="middle" >Metasurface Thickness 0=0.5</text>
<text x="1709.2" y="579.5" font-size="24.9" text-anchor="middle" >Actual Value</text>
<text x="0" y="0" font-size="25.7" text-anchor="middle" transform="translate(1334.4,305.05) rotate(-90)">Predicted Value</text>
<clipPath id="c8"><rect x="1432.8" y="679.5" width="549.5" height="426.2"/></clipPath>
<circle cx="1695.2" cy="800.8" r="5.3" fill="#ff0000" clip-path="url(#c8)"/>
<circle cx="1710.6" cy="793.4" r="5.3" fill="#ff0000" clip-path="url(#c8)"/>
<circle cx="1743.4" cy="769.9" r="5.3" fill="#ff0000" clip-path="url(#c8)"/>
<circle cx="1743.4" cy="777.2" r="5.3" fill="#ff0000" clip-path="url(#c8)"/>
<circle cx="1743.4" cy="790.5" r="5.3" fill="#ff0000" clip-path="url(#c8)"/>
<circle cx="1768.4" cy="765.5" r="5.3" fill="#ff0000" clip-path="url(#c8)"/>
<circle cx="1764.7" cy="786.1" r="5.3" fill="#ff0000" clip-path="url(#c8)"/>
<circle cx="1781.6" cy="749.2" r="5.3" fill="#ff0000" clip-path="url(#c8)"/>
<circle cx="1780.2" cy="789.8" r="5.3" fill="#ff0000" clip-path="url(#c8)"/>
<circle cx="1789" cy="740.4" r="5.3" fill="#ff0000" clip-path="url(#c8)"/>
<circle cx="1792.7" cy="790.5" r="5.3" fill="#ff0000" clip-path="url(#c8)"/>
<circle cx="1799.3" cy="755.9" r="5.3" fill="#ff0000" clip-path="url(#c8)"/>
<circle cx="1805.2" cy="760.3" r="5.3" fill="#ff0000" clip-path="url(#c8)"/>
<circle cx="1805.2" cy="793.4" r="5.3" fill="#ff0000" clip-path="url(#c8)"/>
<circle cx="1811.1" cy="793.4" r="5.3" fill="#ff0000" clip-path="url(#c8)"/>
<circle cx="1821.4" cy="734.4" r="5.3" fill="#ff0000" clip-path="url(#c8)"/>
<circle cx="1823.9" cy="713.5" r="5.3" fill="#ff0000" clip-path="url(#c8)"/>
<circle cx="1823.9" cy="759.8" r="5.3" fill="#ff0000" clip-path="url(#c8)"/>
<circle cx="1834.7" cy="702.7" r="5.3" fill="#ff0000" clip-path="url(#c8)"/>
<circle cx="1844.2" cy="721.1" r="5.3" fill="#ff0000" clip-path="url(#c8)"/>
<circle cx="1844.2" cy="763.6" r="5.3" fill="#ff0000" clip-path="url(#c8)"/>
<circle cx="1861.3" cy="730.6" r="5.3" fill="#ff0000" clip-path="url(#c8)"/>
<circle cx="1874" cy="693.8" r="5.3" fill="#ff0000" clip-path="url(#c8)"/>
<circle cx="1874" cy="726.2" r="5.3" fill="#ff0000" clip-path="url(#c8)"/>
<circle cx="1882.3" cy="728.1" r="5.3" fill="#ff0000" clip-path="url(#c8)"/>
<circle cx="1917.8" cy="690.6" r="5.3" fill="#ff0000" clip-path="url(#c8)"/>
<circle cx="1695.2" cy="842.1" r="5.3" fill="#008000" clip-path="url(#c8)"/>
<circle cx="1710.6" cy="835.4" r="5.3" fill="#008000" clip-path="url(#c8)"/>
<circle cx="1743.4" cy="811.1" r="5.3" fill="#008000" clip-path="url(#c8)"/>
<circle cx="1743.4" cy="831.7" r="5.3" fill="#008000" clip-path="url(#c8)"/>
<circle cx="1768.4" cy="805.2" r="5.3" fill="#008000" clip-path="url(#c8)"/>
<circle cx="1764.7" cy="825.9" r="5.3" fill="#008000" clip-path="url(#c8)"/>
<circle cx="1781.6" cy="828.8" r="5.3" fill="#008000" clip-path="url(#c8)"/>
<circle cx="1792.7" cy="828.8" r="5.3" fill="#008000" clip-path="url(#c8)"/>
<circle cx="1805.2" cy="799.3" r="5.3" fill="#008000" clip-path="url(#c8)"/>
<circle cx="1805.2" cy="827.3" r="5.3" fill="#008000" clip-path="url(#c8)"/>
<circle cx="1811.1" cy="827.3" r="5.3" fill="#008000" clip-path="url(#c8)"/>
<circle cx="1834.7" cy="737" r="5.3" fill="#008000" clip-path="url(#c8)"/>
<circle cx="1834.7" cy="797.9" r="5.3" fill="#008000" clip-path="url(#c8)"/>
<circle cx="1844.2" cy="763.6" r="5.3" fill="#008000" clip-path="url(#c8)"/>
<circle cx="1844.2" cy="797.9" r="5.3" fill="#008000" clip-path="url(#c8)"/>
<circle cx="1861.3" cy="764.2" r="5.3" fill="#008000" clip-path="url(#c8)"/>
<circle cx="1874" cy="729.3" r="5.3" fill="#008000" clip-path="url(#c8)"/>
<circle cx="1882.3" cy="763.6" r="5.3" fill="#008000" clip-path="url(#c8)"/>
<circle cx="1917.8" cy="726.8" r="5.3" fill="#008000" clip-path="url(#c8)"/>
<circle cx="1695.2" cy="781.7" r="5.3" fill="#0000ff" clip-path="url(#c8)"/>
<circle cx="1710.6" cy="777.2" r="5.3" fill="#0000ff" clip-path="url(#c8)"/>
<circle cx="1743.4" cy="753.7" r="5.3" fill="#0000ff" clip-path="url(#c8)"/>
<circle cx="1743.4" cy="758.1" r="5.3" fill="#0000ff" clip-path="url(#c8)"/>
<circle cx="1743.4" cy="772.8" r="5.3" fill="#0000ff" clip-path="url(#c8)"/>
<circle cx="1768.4" cy="747.8" r="5.3" fill="#0000ff" clip-path="url(#c8)"/>
<circle cx="1764.7" cy="764" r="5.3" fill="#0000ff" clip-path="url(#c8)"/>
<circle cx="1781.6" cy="730.1" r="5.3" fill="#0000ff" clip-path="url(#c8)"/>
<circle cx="1780.2" cy="769.9" r="5.3" fill="#0000ff" clip-path="url(#c8)"/>
<circle cx="1789" cy="721.3" r="5.3" fill="#0000ff" clip-path="url(#c8)"/>
<circle cx="1792.7" cy="766.2" r="5.3" fill="#0000ff" clip-path="url(#c8)"/>
<circle cx="1799.3" cy="736.7" r="5.3" fill="#0000ff" clip-path="url(#c8)"/>
<circle cx="1805.2" cy="741.9" r="5.3" fill="#0000ff" clip-path="url(#c8)"/>
<circle cx="1805.2" cy="767.7" r="5.3" fill="#0000ff" clip-path="url(#c8)"/>
<circle cx="1811.1" cy="767.7" r="5.3" fill="#0000ff" clip-path="url(#c8)"/>
<circle cx="1821.4" cy="714.1" r="5.3" fill="#0000ff" clip-path="url(#c8)"/>
<circle cx="1823.9" cy="693.8" r="5.3" fill="#0000ff" clip-path="url(#c8)"/>
<circle cx="1834.7" cy="684.9" r="5.3" fill="#0000ff" clip-path="url(#c8)"/>
<circle cx="1834.7" cy="739.5" r="5.3" fill="#0000ff" clip-path="url(#c8)"/>
<circle cx="1844.2" cy="703.3" r="5.3" fill="#0000ff" clip-path="url(#c8)"/>
<circle cx="1844.2" cy="740.8" r="5.3" fill="#0000ff" clip-path="url(#c8)"/>
<circle cx="1861.3" cy="710.3" r="5.3" fill="#0000ff" clip-path="url(#c8)"/>
<circle cx="1874" cy="681.1" r="5.3" fill="#0000ff" clip-path="url(#c8)"/>
<circle cx="1874" cy="709" r="5.3" fill="#0000ff" clip-path="url(#c8)"/>
<circle cx="1882.3" cy="709.6" r="5.3" fill="#0000ff" clip-path="url(#c8)"/>
<circle cx="1917.8" cy="679.8" r="5.3" fill="#0000ff" clip-path="url(#c8)"/>
<circle cx="1695.2" cy="876" r="5.3" fill="#00bfbf" clip-path="url(#c8)"/>
<circle cx="1710.6" cy="872.3" r="5.3" fill="#00bfbf" clip-path="url(#c8)"/>
<circle cx="1743.4" cy="843.5" r="5.3" fill="#00bfbf" clip-path="url(#c8)"/>
<circle cx="1743.4" cy="849.4" r="5.3" fill="#00bfbf" clip-path="url(#c8)"/>
<circle cx="1768.4" cy="839.1" r="5.3" fill="#00bfbf" clip-path="url(#c8)"/>
<circle cx="1762.5" cy="852.4" r="5.3" fill="#00bfbf" clip-path="url(#c8)"/>
<circle cx="1781.6" cy="811.1" r="5.3" fill="#00bfbf" clip-path="url(#c8)"/>
<circle cx="1789" cy="802.3" r="5.3" fill="#00bfbf" clip-path="url(#c8)"/>
<circle cx="1792.7" cy="855.3" r="5.3" fill="#00bfbf" clip-path="url(#c8)"/>
<circle cx="1799.3" cy="818.5" r="5.3" fill="#00bfbf" clip-path="url(#c8)"/>
<circle cx="1808.6" cy="858.3" r="5.3" fill="#00bfbf" clip-path="url(#c8)"/>
<circle cx="1821.4" cy="767.4" r="5.3" fill="#00bfbf" clip-path="url(#c8)"/>
<circle cx="1821.4" cy="796" r="5.3" fill="#00bfbf" clip-path="url(#c8)"/>
<circle cx="1834.7" cy="763" r="5.3" fill="#00bfbf" clip-path="url(#c8)"/>
<circle cx="1834.7" cy="828.4" r="5.3" fill="#00bfbf" clip-path="url(#c8)"/>
<circle cx="1844.2" cy="777.6" r="5.3" fill="#00bfbf" clip-path="url(#c8)"/>
<circle cx="1844.2" cy="827.7" r="5.3" fill="#00bfbf" clip-path="url(#c8)"/>
<circle cx="1861.3" cy="794.7" r="5.3" fill="#00bfbf" clip-path="url(#c8)"/>
<circle cx="1874" cy="786.5" r="5.3" fill="#00bfbf" clip-path="url(#c8)"/>
<circle cx="1882.3" cy="791.5" r="5.3" fill="#00bfbf" clip-path="url(#c8)"/>
<circle cx="1917.8" cy="762.3" r="5.3" fill="#00bfbf" clip-path="url(#c8)"/>
<circle cx="1695.2" cy="851.6" r="5.3" fill="#bfbf00" clip-path="url(#c8)"/>
<circle cx="1710.6" cy="844.3" r="5.3" fill="#bfbf00" clip-path="url(#c8)"/>
<circle cx="1743.4" cy="817" r="5.3" fill="#bfbf00" clip-path="url(#c8)"/>
<circle cx="1743.4" cy="824.4" r="5.3" fill="#bfbf00" clip-path="url(#c8)"/>
<circle cx="1743.4" cy="837.6" r="5.3" fill="#bfbf00" clip-path="url(#c8)"/>
<circle cx="1768.4" cy="809.6" r="5.3" fill="#bfbf00" clip-path="url(#c8)"/>
<circle cx="1764.7" cy="831.7" r="5.3" fill="#bfbf00" clip-path="url(#c8)"/>
<circle cx="1781.6" cy="787.5" r="5.3" fill="#bfbf00" clip-path="url(#c8)"/>
<circle cx="1789" cy="778.7" r="5.3" fill="#bfbf00" clip-path="url(#c8)"/>
<circle cx="1792.7" cy="833.2" r="5.3" fill="#bfbf00" clip-path="url(#c8)"/>
<circle cx="1799.3" cy="796.4" r="5.3" fill="#bfbf00" clip-path="url(#c8)"/>
<circle cx="1805.2" cy="806.7" r="5.3" fill="#bfbf00" clip-path="url(#c8)"/>
<circle cx="1805.2" cy="833.2" r="5.3" fill="#bfbf00" clip-path="url(#c8)"/>
<circle cx="1811.1" cy="833.2" r="5.3" fill="#bfbf00" clip-path="url(#c8)"/>
<circle cx="1821.4" cy="750.9" r="5.3" fill="#bfbf00" clip-path="url(#c8)"/>
<circle cx="1821.4" cy="773.8" r="5.3" fill="#bfbf00" clip-path="url(#c8)"/>
<circle cx="1823.9" cy="803" r="5.3" fill="#bfbf00" clip-path="url(#c8)"/>
<circle cx="1834.7" cy="745.2" r="5.3" fill="#bfbf00" clip-path="url(#c8)"/>
<circle cx="1834.7" cy="804.2" r="5.3" fill="#bfbf00" clip-path="url(#c8)"/>
<circle cx="1844.2" cy="757.3" r="5.3" fill="#bfbf00" clip-path="url(#c8)"/>
<circle cx="1844.2" cy="806.8" r="5.3" fill="#bfbf00" clip-path="url(#c8)"/>
<circle cx="1861.3" cy="772.5" r="5.3" fill="#bfbf00" clip-path="url(#c8)"/>
<circle cx="1874" cy="741.4" r="5.3" fill="#bfbf00" clip-path="url(#c8)"/>
<circle cx="1874" cy="765.5" r="5.3" fill="#bfbf00" clip-path="url(#c8)"/>
<circle cx="1882.3" cy="770.6" r="5.3" fill="#bfbf00" clip-path="url(#c8)"/>
<circle cx="1917.8" cy="737.6" r="5.3" fill="#bfbf00" clip-path="url(#c8)"/>
<circle cx="1695.2" cy="927.5" r="5.3" fill="#ffc0cb" clip-path="url(#c8)"/>
<circle cx="1710.6" cy="917.2" r="5.3" fill="#ffc0cb" clip-path="url(#c8)"/>
<circle cx="1743.4" cy="898" r="5.3" fill="#ffc0cb" clip-path="url(#c8)"/>
<circle cx="1743.4" cy="909.8" r="5.3" fill="#ffc0cb" clip-path="url(#c8)"/>
<circle cx="1764.7" cy="909.8" r="5.3" fill="#ffc0cb" clip-path="url(#c8)"/>
<circle cx="1781.6" cy="862.7" r="5.3" fill="#ffc0cb" clip-path="url(#c8)"/>
<circle cx="1780.2" cy="907.6" r="5.3" fill="#ffc0cb" clip-path="url(#c8)"/>
<circle cx="1789" cy="852.4" r="5.3" fill="#ffc0cb" clip-path="url(#c8)"/>
<circle cx="1792.7" cy="914.3" r="5.3" fill="#ffc0cb" clip-path="url(#c8)"/>
<circle cx="1799.3" cy="873" r="5.3" fill="#ffc0cb" clip-path="url(#c8)"/>
<circle cx="1805.2" cy="910.6" r="5.3" fill="#ffc0cb" clip-path="url(#c8)"/>
<circle cx="1811.1" cy="912" r="5.3" fill="#ffc0cb" clip-path="url(#c8)"/>
<circle cx="1821.4" cy="823.3" r="5.3" fill="#ffc0cb" clip-path="url(#c8)"/>
<circle cx="1821.4" cy="844.9" r="5.3" fill="#ffc0cb" clip-path="url(#c8)"/>
<circle cx="1823.9" cy="880.4" r="5.3" fill="#ffc0cb" clip-path="url(#c8)"/>
<circle cx="1834.7" cy="811.9" r="5.3" fill="#ffc0cb" clip-path="url(#c8)"/>
<circle cx="1834.7" cy="880.4" r="5.3" fill="#ffc0cb" clip-path="url(#c8)"/>
<circle cx="1844.2" cy="834.1" r="5.3" fill="#ffc0cb" clip-path="url(#c8)"/>
<circle cx="1844.2" cy="881.7" r="5.3" fill="#ffc0cb" clip-path="url(#c8)"/>
<circle cx="1861.3" cy="842.3" r="5.3" fill="#ffc0cb" clip-path="url(#c8)"/>
<circle cx="1874" cy="841.1" r="5.3" fill="#ffc0cb" clip-path="url(#c8)"/>
<circle cx="1882.3" cy="842.3" r="5.3" fill="#ffc0cb" clip-path="url(#c8)"/>
<circle cx="1917.8" cy="801.1" r="5.3" fill="#ffc0cb" clip-path="url(#c8)"/>
<circle cx="1695.2" cy="903.9" r="5.3" fill="#000000" clip-path="url(#c8)"/>
<circle cx="1710.6" cy="893.6" r="5.3" fill="#000000" clip-path="url(#c8)"/>
<circle cx="1743.4" cy="861.2" r="5.3" fill="#000000" clip-path="url(#c8)"/>
<circle cx="1743.4" cy="871.5" r="5.3" fill="#000000" clip-path="url(#c8)"/>
<circle cx="1743.4" cy="887.7" r="5.3" fill="#000000" clip-path="url(#c8)"/>
<circle cx="1768.4" cy="855.3" r="5.3" fill="#000000" clip-path="url(#c8)"/>
<circle cx="1764.7" cy="880.4" r="5.3" fill="#000000" clip-path="url(#c8)"/>
<circle cx="1781.6" cy="828.8" r="5.3" fill="#000000" clip-path="url(#c8)"/>
<circle cx="1780.2" cy="884.8" r="5.3" fill="#000000" clip-path="url(#c8)"/>
<circle cx="1789" cy="818.5" r="5.3" fill="#000000" clip-path="url(#c8)"/>
<circle cx="1792.7" cy="885.5" r="5.3" fill="#000000" clip-path="url(#c8)"/>
<circle cx="1799.3" cy="838.4" r="5.3" fill="#000000" clip-path="url(#c8)"/>
<circle cx="1805.2" cy="850.9" r="5.3" fill="#000000" clip-path="url(#c8)"/>
<circle cx="1805.2" cy="886.3" r="5.3" fill="#000000" clip-path="url(#c8)"/>
<circle cx="1811.1" cy="886.3" r="5.3" fill="#000000" clip-path="url(#c8)"/>
<circle cx="1821.4" cy="783.9" r="5.3" fill="#000000" clip-path="url(#c8)"/>
<circle cx="1821.4" cy="811.2" r="5.3" fill="#000000" clip-path="url(#c8)"/>
<circle cx="1834.7" cy="772.5" r="5.3" fill="#000000" clip-path="url(#c8)"/>
<circle cx="1834.7" cy="848.7" r="5.3" fill="#000000" clip-path="url(#c8)"/>
<circle cx="1844.2" cy="794.1" r="5.3" fill="#000000" clip-path="url(#c8)"/>
<circle cx="1844.2" cy="848.7" r="5.3" fill="#000000" clip-path="url(#c8)"/>
<circle cx="1861.3" cy="806.1" r="5.3" fill="#000000" clip-path="url(#c8)"/>
<circle cx="1874" cy="763" r="5.3" fill="#000000" clip-path="url(#c8)"/>
<circle cx="1874" cy="799.8" r="5.3" fill="#000000" clip-path="url(#c8)"/>
<circle cx="1882.3" cy="803" r="5.3" fill="#000000" clip-path="url(#c8)"/>
<circle cx="1917.8" cy="759.2" r="5.3" fill="#000000" clip-path="url(#c8)"/>
<line x1="1432.8" y1="1105.7" x2="1982.3" y2="679.5" stroke="#1c6ea8" stroke-width="1.9" clip-path="url(#c8)"/>
<line x1="1432.8" y1="679.5" x2="1432.8" y2="1105.7" stroke="#111" stroke-width="1.3" stroke-linecap="square"/>
<line x1="1982.3" y1="679.5" x2="1982.3" y2="1105.7" stroke="#a8a8a8" stroke-width="1.7" stroke-linecap="square"/>
<line x1="1432.8" y1="679.5" x2="1982.3" y2="679.5" stroke="#111" stroke-width="1.3" stroke-linecap="square"/>
<line x1="1432.8" y1="1105.7" x2="1982.3" y2="1105.7" stroke="#111" stroke-width="1.3" stroke-linecap="square"/>
<line x1="1427.5" y1="1049" x2="1432.8" y2="1049" stroke="#111" stroke-width="1.3"/>
<text x="1422.3" y="1059.2" font-size="25.3" text-anchor="end" >0.700</text>
<line x1="1427.5" y1="989.88" x2="1432.8" y2="989.88" stroke="#111" stroke-width="1.3"/>
<text x="1422.3" y="1000.08" font-size="25.3" text-anchor="end" >0.725</text>
<line x1="1427.5" y1="930.76" x2="1432.8" y2="930.76" stroke="#111" stroke-width="1.3"/>
<text x="1422.3" y="940.96" font-size="25.3" text-anchor="end" >0.750</text>
<line x1="1427.5" y1="871.65" x2="1432.8" y2="871.65" stroke="#111" stroke-width="1.3"/>
<text x="1422.3" y="881.85" font-size="25.3" text-anchor="end" >0.775</text>
<line x1="1427.5" y1="812.53" x2="1432.8" y2="812.53" stroke="#111" stroke-width="1.3"/>
<text x="1422.3" y="822.73" font-size="25.3" text-anchor="end" >0.800</text>
<line x1="1427.5" y1="753.41" x2="1432.8" y2="753.41" stroke="#111" stroke-width="1.3"/>
<text x="1422.3" y="763.61" font-size="25.3" text-anchor="end" >0.825</text>
<line x1="1427.5" y1="694.29" x2="1432.8" y2="694.29" stroke="#111" stroke-width="1.3"/>
<text x="1422.3" y="704.5" font-size="25.3" text-anchor="end" >0.850</text>
<line x1="1505.4" y1="1105.7" x2="1505.4" y2="1111" stroke="#111" stroke-width="1.3"/>
<text x="1505.4" y="1136.7" font-size="25.3" text-anchor="middle" >0.70</text>
<line x1="1657.7" y1="1105.7" x2="1657.7" y2="1111" stroke="#111" stroke-width="1.3"/>
<text x="1657.7" y="1136.7" font-size="25.3" text-anchor="middle" >0.75</text>
<line x1="1810" y1="1105.7" x2="1810" y2="1111" stroke="#111" stroke-width="1.3"/>
<text x="1810" y="1136.7" font-size="25.3" text-anchor="middle" >0.80</text>
<line x1="1962.3" y1="1105.7" x2="1962.3" y2="1111" stroke="#111" stroke-width="1.3"/>
<text x="1962.3" y="1136.7" font-size="25.3" text-anchor="middle" >0.85</text>
<rect x="1441.6" y="688.6" width="179.7" height="201.5" rx="3.5" fill="#fff" fill-opacity="0.8" stroke="#cccccc" stroke-width="1.3"/>
<circle cx="1467.9" cy="705.7" r="5.4" fill="#ff0000"/>
<text x="1500.7" y="711.2" font-size="18.4" text-anchor="start" >Length=7</text>
<circle cx="1467.9" cy="733.88" r="5.4" fill="#008000"/>
<text x="1500.7" y="739.38" font-size="18.4" text-anchor="start" >Length=8</text>
<circle cx="1467.9" cy="762.06" r="5.4" fill="#0000ff"/>
<text x="1500.7" y="767.56" font-size="18.4" text-anchor="start" >Length=9</text>
<circle cx="1467.9" cy="790.24" r="5.4" fill="#00bfbf"/>
<text x="1500.7" y="795.74" font-size="18.4" text-anchor="start" >Length=10</text>
<circle cx="1467.9" cy="818.42" r="5.4" fill="#bfbf00"/>
<text x="1500.7" y="823.92" font-size="18.4" text-anchor="start" >Length=11</text>
<circle cx="1467.9" cy="846.6" r="5.4" fill="#ffc0cb"/>
<text x="1500.7" y="852.1" font-size="18.4" text-anchor="start" >Length=12</text>
<circle cx="1467.9" cy="874.78" r="5.4" fill="#000000"/>
<text x="1500.7" y="880.28" font-size="18.4" text-anchor="start" >Length=13</text>
<text x="1707.55" y="670" font-size="29.7" text-anchor="middle" >Metasurface Thickness 0=1.0</text>
<text x="1707.55" y="1166.5" font-size="24.9" text-anchor="middle" >Actual Value</text>
<text x="0" y="0" font-size="25.7" text-anchor="middle" transform="translate(1334,892.6) rotate(-90)">Predicted Value</text>
<clipPath id="c9"><rect x="1431.4" y="1267.9" width="550.2" height="426.3"/></clipPath>
<circle cx="1675.6" cy="1383.4" r="5.3" fill="#ff0000" clip-path="url(#c9)"/>
<circle cx="1691.3" cy="1373.8" r="5.3" fill="#ff0000" clip-path="url(#c9)"/>
<circle cx="1726" cy="1350.7" r="5.3" fill="#ff0000" clip-path="url(#c9)"/>
<circle cx="1721.2" cy="1368.4" r="5.3" fill="#ff0000" clip-path="url(#c9)"/>
<circle cx="1751.8" cy="1343.2" r="5.3" fill="#ff0000" clip-path="url(#c9)"/>
<circle cx="1747" cy="1368.4" r="5.3" fill="#ff0000" clip-path="url(#c9)"/>
<circle cx="1765.4" cy="1329.6" r="5.3" fill="#ff0000" clip-path="url(#c9)"/>
<circle cx="1763.4" cy="1367" r="5.3" fill="#ff0000" clip-path="url(#c9)"/>
<circle cx="1773.2" cy="1320.1" r="5.3" fill="#ff0000" clip-path="url(#c9)"/>
<circle cx="1776.3" cy="1373.8" r="5.3" fill="#ff0000" clip-path="url(#c9)"/>
<circle cx="1785.2" cy="1339.1" r="5.3" fill="#ff0000" clip-path="url(#c9)"/>
<circle cx="1789.5" cy="1339.1" r="5.3" fill="#ff0000" clip-path="url(#c9)"/>
<circle cx="1796" cy="1372.5" r="5.3" fill="#ff0000" clip-path="url(#c9)"/>
<circle cx="1810.2" cy="1293.6" r="5.3" fill="#ff0000" clip-path="url(#c9)"/>
<circle cx="1806.8" cy="1311.3" r="5.3" fill="#ff0000" clip-path="url(#c9)"/>
<circle cx="1821.1" cy="1281.3" r="5.3" fill="#ff0000" clip-path="url(#c9)"/>
<circle cx="1821.1" cy="1341.2" r="5.3" fill="#ff0000" clip-path="url(#c9)"/>
<circle cx="1814.3" cy="1341.2" r="5.3" fill="#ff0000" clip-path="url(#c9)"/>
<circle cx="1830.6" cy="1303.8" r="5.3" fill="#ff0000" clip-path="url(#c9)"/>
<circle cx="1830.6" cy="1341.2" r="5.3" fill="#ff0000" clip-path="url(#c9)"/>
<circle cx="1848.3" cy="1307.9" r="5.3" fill="#ff0000" clip-path="url(#c9)"/>
<circle cx="1862.6" cy="1271.1" r="5.3" fill="#ff0000" clip-path="url(#c9)"/>
<circle cx="1859.9" cy="1307.9" r="5.3" fill="#ff0000" clip-path="url(#c9)"/>
<circle cx="1870.1" cy="1307.2" r="5.3" fill="#ff0000" clip-path="url(#c9)"/>
<circle cx="1908.2" cy="1269.1" r="5.3" fill="#ff0000" clip-path="url(#c9)"/>
<circle cx="1675.6" cy="1504.5" r="5.3" fill="#008000" clip-path="url(#c9)"/>
<circle cx="1691.3" cy="1496.3" r="5.3" fill="#008000" clip-path="url(#c9)"/>
<circle cx="1726" cy="1488.1" r="5.3" fill="#008000" clip-path="url(#c9)"/>
<circle cx="1747" cy="1488.1" r="5.3" fill="#008000" clip-path="url(#c9)"/>
<circle cx="1752.5" cy="1459.6" r="5.3" fill="#008000" clip-path="url(#c9)"/>
<circle cx="1765.4" cy="1444.6" r="5.3" fill="#008000" clip-path="url(#c9)"/>
<circle cx="1763.4" cy="1486.8" r="5.3" fill="#008000" clip-path="url(#c9)"/>
<circle cx="1773.2" cy="1431.7" r="5.3" fill="#008000" clip-path="url(#c9)"/>
<circle cx="1776.3" cy="1490.9" r="5.3" fill="#008000" clip-path="url(#c9)"/>
<circle cx="1785.2" cy="1454.1" r="5.3" fill="#008000" clip-path="url(#c9)"/>
<circle cx="1789.5" cy="1454.1" r="5.3" fill="#008000" clip-path="url(#c9)"/>
<circle cx="1796" cy="1490.9" r="5.3" fill="#008000" clip-path="url(#c9)"/>
<circle cx="1810.2" cy="1400.4" r="5.3" fill="#008000" clip-path="url(#c9)"/>
<circle cx="1806.8" cy="1420.1" r="5.3" fill="#008000" clip-path="url(#c9)"/>
<circle cx="1814.3" cy="1457.5" r="5.3" fill="#008000" clip-path="url(#c9)"/>
<circle cx="1823.1" cy="1456.2" r="5.3" fill="#008000" clip-path="url(#c9)"/>
<circle cx="1830.6" cy="1414" r="5.3" fill="#008000" clip-path="url(#c9)"/>
<circle cx="1830.6" cy="1456.8" r="5.3" fill="#008000" clip-path="url(#c9)"/>
<circle cx="1848.3" cy="1416" r="5.3" fill="#008000" clip-path="url(#c9)"/>
<circle cx="1862.6" cy="1373.8" r="5.3" fill="#008000" clip-path="url(#c9)"/>
<circle cx="1859.9" cy="1418.1" r="5.3" fill="#008000" clip-path="url(#c9)"/>
<circle cx="1870.1" cy="1417.4" r="5.3" fill="#008000" clip-path="url(#c9)"/>
<circle cx="1908.2" cy="1373.2" r="5.3" fill="#008000" clip-path="url(#c9)"/>
<circle cx="1675.6" cy="1388.1" r="5.3" fill="#0000ff" clip-path="url(#c9)"/>
<circle cx="1691.3" cy="1380.6" r="5.3" fill="#0000ff" clip-path="url(#c9)"/>
<circle cx="1726" cy="1360.2" r="5.3" fill="#0000ff" clip-path="url(#c9)"/>
<circle cx="1726" cy="1368.4" r="5.3" fill="#0000ff" clip-path="url(#c9)"/>
<circle cx="1726" cy="1372.5" r="5.3" fill="#0000ff" clip-path="url(#c9)"/>
<circle cx="1751.8" cy="1351.4" r="5.3" fill="#0000ff" clip-path="url(#c9)"/>
<circle cx="1747" cy="1373.8" r="5.3" fill="#0000ff" clip-path="url(#c9)"/>
<circle cx="1765.4" cy="1339.1" r="5.3" fill="#0000ff" clip-path="url(#c9)"/>
<circle cx="1763.4" cy="1372.5" r="5.3" fill="#0000ff" clip-path="url(#c9)"/>
<circle cx="1773.2" cy="1329.6" r="5.3" fill="#0000ff" clip-path="url(#c9)"/>
<circle cx="1776.3" cy="1375.9" r="5.3" fill="#0000ff" clip-path="url(#c9)"/>
<circle cx="1785.2" cy="1346.6" r="5.3" fill="#0000ff" clip-path="url(#c9)"/>
<circle cx="1789.5" cy="1346.6" r="5.3" fill="#0000ff" clip-path="url(#c9)"/>
<circle cx="1796" cy="1375.2" r="5.3" fill="#0000ff" clip-path="url(#c9)"/>
<circle cx="1810.2" cy="1305.8" r="5.3" fill="#0000ff" clip-path="url(#c9)"/>
<circle cx="1806.8" cy="1321.5" r="5.3" fill="#0000ff" clip-path="url(#c9)"/>
<circle cx="1821.1" cy="1294.3" r="5.3" fill="#0000ff" clip-path="url(#c9)"/>
<circle cx="1821.1" cy="1348" r="5.3" fill="#0000ff" clip-path="url(#c9)"/>
<circle cx="1814.3" cy="1348" r="5.3" fill="#0000ff" clip-path="url(#c9)"/>
<circle cx="1830.6" cy="1316" r="5.3" fill="#0000ff" clip-path="url(#c9)"/>
<circle cx="1830.6" cy="1349.4" r="5.3" fill="#0000ff" clip-path="url(#c9)"/>
<circle cx="1848.3" cy="1318.7" r="5.3" fill="#0000ff" clip-path="url(#c9)"/>
<circle cx="1862.6" cy="1286.8" r="5.3" fill="#0000ff" clip-path="url(#c9)"/>
<circle cx="1859.9" cy="1320.1" r="5.3" fill="#0000ff" clip-path="url(#c9)"/>
<circle cx="1870.1" cy="1320.1" r="5.3" fill="#0000ff" clip-path="url(#c9)"/>
<circle cx="1908.2" cy="1286.8" r="5.3" fill="#0000ff" clip-path="url(#c9)"/>
<circle cx="1675.6" cy="1410.6" r="5.3" fill="#00bfbf" clip-path="url(#c9)"/>
<circle cx="1691.3" cy="1402.4" r="5.3" fill="#00bfbf" clip-path="url(#c9)"/>
<circle cx="1726" cy="1377.9" r="5.3" fill="#00bfbf" clip-path="url(#c9)"/>
<circle cx="1726" cy="1384.7" r="5.3" fill="#00bfbf" clip-path="url(#c9)"/>
<circle cx="1721.2" cy="1395.6" r="5.3" fill="#00bfbf" clip-path="url(#c9)"/>
<circle cx="1751.8" cy="1369.8" r="5.3" fill="#00bfbf" clip-path="url(#c9)"/>
<circle cx="1747" cy="1393.6" r="5.3" fill="#00bfbf" clip-path="url(#c9)"/>
<circle cx="1765.4" cy="1353.4" r="5.3" fill="#00bfbf" clip-path="url(#c9)"/>
<circle cx="1763.4" cy="1392.9" r="5.3" fill="#00bfbf" clip-path="url(#c9)"/>
<circle cx="1773.2" cy="1343.2" r="5.3" fill="#00bfbf" clip-path="url(#c9)"/>
<circle cx="1776.3" cy="1395.6" r="5.3" fill="#00bfbf" clip-path="url(#c9)"/>
<circle cx="1785.2" cy="1364.3" r="5.3" fill="#00bfbf" clip-path="url(#c9)"/>
<circle cx="1789.5" cy="1364.3" r="5.3" fill="#00bfbf" clip-path="url(#c9)"/>
<circle cx="1789.5" cy="1394.3" r="5.3" fill="#00bfbf" clip-path="url(#c9)"/>
<circle cx="1796" cy="1394.3" r="5.3" fill="#00bfbf" clip-path="url(#c9)"/>
<circle cx="1806.8" cy="1336.4" r="5.3" fill="#00bfbf" clip-path="url(#c9)"/>
<circle cx="1830.6" cy="1367.7" r="5.3" fill="#00bfbf" clip-path="url(#c9)"/>
<circle cx="1848.3" cy="1334.4" r="5.3" fill="#00bfbf" clip-path="url(#c9)"/>
<circle cx="1862.6" cy="1300.4" r="5.3" fill="#00bfbf" clip-path="url(#c9)"/>
<circle cx="1859.9" cy="1333" r="5.3" fill="#00bfbf" clip-path="url(#c9)"/>
<circle cx="1870.1" cy="1334.4" r="5.3" fill="#00bfbf" clip-path="url(#c9)"/>
<circle cx="1818" cy="1367.7" r="5.3" fill="#00bfbf" clip-path="url(#c9)"/>
<circle cx="1675.6" cy="1432.3" r="5.3" fill="#bfbf00" clip-path="url(#c9)"/>
<circle cx="1691.3" cy="1422.8" r="5.3" fill="#bfbf00" clip-path="url(#c9)"/>
<circle cx="1726" cy="1392.9" r="5.3" fill="#bfbf00" clip-path="url(#c9)"/>
<circle cx="1726" cy="1402.4" r="5.3" fill="#bfbf00" clip-path="url(#c9)"/>
<circle cx="1724.6" cy="1417.4" r="5.3" fill="#bfbf00" clip-path="url(#c9)"/>
<circle cx="1751.8" cy="1385.4" r="5.3" fill="#bfbf00" clip-path="url(#c9)"/>
<circle cx="1747" cy="1412.6" r="5.3" fill="#bfbf00" clip-path="url(#c9)"/>
<circle cx="1765.4" cy="1361.6" r="5.3" fill="#bfbf00" clip-path="url(#c9)"/>
<circle cx="1763.4" cy="1416" r="5.3" fill="#bfbf00" clip-path="url(#c9)"/>
<circle cx="1773.2" cy="1352.1" r="5.3" fill="#bfbf00" clip-path="url(#c9)"/>
<circle cx="1785.2" cy="1373.8" r="5.3" fill="#bfbf00" clip-path="url(#c9)"/>
<circle cx="1789.5" cy="1384" r="5.3" fill="#bfbf00" clip-path="url(#c9)"/>
<circle cx="1796" cy="1420.8" r="5.3" fill="#bfbf00" clip-path="url(#c9)"/>
<circle cx="1810.2" cy="1316.7" r="5.3" fill="#bfbf00" clip-path="url(#c9)"/>
<circle cx="1806.8" cy="1346.6" r="5.3" fill="#bfbf00" clip-path="url(#c9)"/>
<circle cx="1821.1" cy="1308.5" r="5.3" fill="#bfbf00" clip-path="url(#c9)"/>
<circle cx="1821.1" cy="1384" r="5.3" fill="#bfbf00" clip-path="url(#c9)"/>
<circle cx="1830.6" cy="1328.3" r="5.3" fill="#bfbf00" clip-path="url(#c9)"/>
<circle cx="1830.6" cy="1386.8" r="5.3" fill="#bfbf00" clip-path="url(#c9)"/>
<circle cx="1848.3" cy="1346" r="5.3" fill="#bfbf00" clip-path="url(#c9)"/>
<circle cx="1862.6" cy="1303.1" r="5.3" fill="#bfbf00" clip-path="url(#c9)"/>
<circle cx="1859.9" cy="1338.5" r="5.3" fill="#bfbf00" clip-path="url(#c9)"/>
<circle cx="1870.1" cy="1343.9" r="5.3" fill="#bfbf00" clip-path="url(#c9)"/>
<circle cx="1908.2" cy="1301.7" r="5.3" fill="#bfbf00" clip-path="url(#c9)"/>
<circle cx="1675.6" cy="1482" r="5.3" fill="#ffc0cb" clip-path="url(#c9)"/>
<circle cx="1691.3" cy="1471.8" r="5.3" fill="#ffc0cb" clip-path="url(#c9)"/>
<circle cx="1726" cy="1441.2" r="5.3" fill="#ffc0cb" clip-path="url(#c9)"/>
<circle cx="1726" cy="1448.7" r="5.3" fill="#ffc0cb" clip-path="url(#c9)"/>
<circle cx="1721.2" cy="1463.6" r="5.3" fill="#ffc0cb" clip-path="url(#c9)"/>
<circle cx="1751.8" cy="1433.7" r="5.3" fill="#ffc0cb" clip-path="url(#c9)"/>
<circle cx="1747" cy="1459.6" r="5.3" fill="#ffc0cb" clip-path="url(#c9)"/>
<circle cx="1765.4" cy="1409.2" r="5.3" fill="#ffc0cb" clip-path="url(#c9)"/>
<circle cx="1763.4" cy="1460.9" r="5.3" fill="#ffc0cb" clip-path="url(#c9)"/>
<circle cx="1773.2" cy="1399.7" r="5.3" fill="#ffc0cb" clip-path="url(#c9)"/>
<circle cx="1776.3" cy="1464.3" r="5.3" fill="#ffc0cb" clip-path="url(#c9)"/>
<circle cx="1785.2" cy="1417.4" r="5.3" fill="#ffc0cb" clip-path="url(#c9)"/>
<circle cx="1789.5" cy="1430.3" r="5.3" fill="#ffc0cb" clip-path="url(#c9)"/>
<circle cx="1789.5" cy="1463.6" r="5.3" fill="#ffc0cb" clip-path="url(#c9)"/>
<circle cx="1796" cy="1465" r="5.3" fill="#ffc0cb" clip-path="url(#c9)"/>
<circle cx="1810.2" cy="1368.4" r="5.3" fill="#ffc0cb" clip-path="url(#c9)"/>
<circle cx="1806.8" cy="1393.6" r="5.3" fill="#ffc0cb" clip-path="url(#c9)"/>
<circle cx="1814.3" cy="1427.6" r="5.3" fill="#ffc0cb" clip-path="url(#c9)"/>
<circle cx="1821.1" cy="1358.9" r="5.3" fill="#ffc0cb" clip-path="url(#c9)"/>
<circle cx="1823.1" cy="1430.3" r="5.3" fill="#ffc0cb" clip-path="url(#c9)"/>
<circle cx="1830.6" cy="1377.9" r="5.3" fill="#ffc0cb" clip-path="url(#c9)"/>
<circle cx="1830.6" cy="1430.3" r="5.3" fill="#ffc0cb" clip-path="url(#c9)"/>
<circle cx="1848.3" cy="1389.5" r="5.3" fill="#ffc0cb" clip-path="url(#c9)"/>
<circle cx="1862.6" cy="1350.7" r="5.3" fill="#ffc0cb" clip-path="url(#c9)"/>
<circle cx="1859.9" cy="1384.7" r="5.3" fill="#ffc0cb" clip-path="url(#c9)"/>
<circle cx="1870.1" cy="1388.1" r="5.3" fill="#ffc0cb" clip-path="url(#c9)"/>
<circle cx="1908.2" cy="1347.3" r="5.3" fill="#ffc0cb" clip-path="url(#c9)"/>
<circle cx="1675.6" cy="1499" r="5.3" fill="#000000" clip-path="url(#c9)"/>
<circle cx="1691.3" cy="1486.8" r="5.3" fill="#000000" clip-path="url(#c9)"/>
<circle cx="1726" cy="1458.2" r="5.3" fill="#000000" clip-path="url(#c9)"/>
<circle cx="1726" cy="1470.4" r="5.3" fill="#000000" clip-path="url(#c9)"/>
<circle cx="1726" cy="1480" r="5.3" fill="#000000" clip-path="url(#c9)"/>
<circle cx="1751.8" cy="1449.4" r="5.3" fill="#000000" clip-path="url(#c9)"/>
<circle cx="1747" cy="1480" r="5.3" fill="#000000" clip-path="url(#c9)"/>
<circle cx="1765.4" cy="1428.3" r="5.3" fill="#000000" clip-path="url(#c9)"/>
<circle cx="1763.4" cy="1477.9" r="5.3" fill="#000000" clip-path="url(#c9)"/>
<circle cx="1773.2" cy="1416.7" r="5.3" fill="#000000" clip-path="url(#c9)"/>
<circle cx="1776.3" cy="1486.1" r="5.3" fill="#000000" clip-path="url(#c9)"/>
<circle cx="1785.2" cy="1440.5" r="5.3" fill="#000000" clip-path="url(#c9)"/>
<circle cx="1789.5" cy="1445.3" r="5.3" fill="#000000" clip-path="url(#c9)"/>
<circle cx="1789.5" cy="1485.4" r="5.3" fill="#000000" clip-path="url(#c9)"/>
<circle cx="1796" cy="1486.5" r="5.3" fill="#000000" clip-path="url(#c9)"/>
<circle cx="1810.2" cy="1384.7" r="5.3" fill="#000000" clip-path="url(#c9)"/>
<circle cx="1806.8" cy="1409.2" r="5.3" fill="#000000" clip-path="url(#c9)"/>
<circle cx="1814.3" cy="1448" r="5.3" fill="#000000" clip-path="url(#c9)"/>
<circle cx="1821.1" cy="1370.4" r="5.3" fill="#000000" clip-path="url(#c9)"/>
<circle cx="1823.1" cy="1447.3" r="5.3" fill="#000000" clip-path="url(#c9)"/>
<circle cx="1830.6" cy="1397.7" r="5.3" fill="#000000" clip-path="url(#c9)"/>
<circle cx="1830.6" cy="1448.7" r="5.3" fill="#000000" clip-path="url(#c9)"/>
<circle cx="1848.3" cy="1406.5" r="5.3" fill="#000000" clip-path="url(#c9)"/>
<circle cx="1862.6" cy="1362.3" r="5.3" fill="#000000" clip-path="url(#c9)"/>
<circle cx="1859.9" cy="1405.1" r="5.3" fill="#000000" clip-path="url(#c9)"/>
<circle cx="1870.1" cy="1406.5" r="5.3" fill="#000000" clip-path="url(#c9)"/>
<circle cx="1908.2" cy="1360.9" r="5.3" fill="#000000" clip-path="url(#c9)"/>
<line x1="1431.4" y1="1694.2" x2="1981.6" y2="1267.9" stroke="#1c6ea8" stroke-width="1.9" clip-path="url(#c9)"/>
<line x1="1431.4" y1="1267.9" x2="1431.4" y2="1694.2" stroke="#111" stroke-width="1.3" stroke-linecap="square"/>
<line x1="1981.6" y1="1267.9" x2="1981.6" y2="1694.2" stroke="#111" stroke-width="1.3" stroke-linecap="square"/>
<line x1="1431.4" y1="1267.9" x2="1981.6" y2="1267.9" stroke="#111" stroke-width="1.3" stroke-linecap="square"/>
<line x1="1431.4" y1="1694.2" x2="1981.6" y2="1694.2" stroke="#111" stroke-width="1.3" stroke-linecap="square"/>
<line x1="1426.1" y1="1657.9" x2="1431.4" y2="1657.9" stroke="#111" stroke-width="1.3"/>
<text x="1420.9" y="1668.1" font-size="25.3" text-anchor="end" >0.700</text>
<line x1="1426.1" y1="1596.33" x2="1431.4" y2="1596.33" stroke="#111" stroke-width="1.3"/>
<text x="1420.9" y="1606.53" font-size="25.3" text-anchor="end" >0.725</text>
<line x1="1426.1" y1="1534.75" x2="1431.4" y2="1534.75" stroke="#111" stroke-width="1.3"/>
<text x="1420.9" y="1544.95" font-size="25.3" text-anchor="end" >0.750</text>
<line x1="1426.1" y1="1473.17" x2="1431.4" y2="1473.17" stroke="#111" stroke-width="1.3"/>
<text x="1420.9" y="1483.38" font-size="25.3" text-anchor="end" >0.775</text>
<line x1="1426.1" y1="1411.6" x2="1431.4" y2="1411.6" stroke="#111" stroke-width="1.3"/>
<text x="1420.9" y="1421.8" font-size="25.3" text-anchor="end" >0.800</text>
<line x1="1426.1" y1="1350.03" x2="1431.4" y2="1350.03" stroke="#111" stroke-width="1.3"/>
<text x="1420.9" y="1360.23" font-size="25.3" text-anchor="end" >0.825</text>
<line x1="1426.1" y1="1288.45" x2="1431.4" y2="1288.45" stroke="#111" stroke-width="1.3"/>
<text x="1420.9" y="1298.65" font-size="25.3" text-anchor="end" >0.850</text>
<line x1="1477.2" y1="1694.2" x2="1477.2" y2="1699.5" stroke="#111" stroke-width="1.3"/>
<text x="1477.2" y="1725.2" font-size="25.3" text-anchor="middle" >0.700</text>
<line x1="1556.75" y1="1694.2" x2="1556.75" y2="1699.5" stroke="#111" stroke-width="1.3"/>
<text x="1556.75" y="1725.2" font-size="25.3" text-anchor="middle" >0.725</text>
<line x1="1636.3" y1="1694.2" x2="1636.3" y2="1699.5" stroke="#111" stroke-width="1.3"/>
<text x="1636.3" y="1725.2" font-size="25.3" text-anchor="middle" >0.750</text>
<line x1="1715.85" y1="1694.2" x2="1715.85" y2="1699.5" stroke="#111" stroke-width="1.3"/>
<text x="1715.85" y="1725.2" font-size="25.3" text-anchor="middle" >0.775</text>
<line x1="1795.4" y1="1694.2" x2="1795.4" y2="1699.5" stroke="#111" stroke-width="1.3"/>
<text x="1795.4" y="1725.2" font-size="25.3" text-anchor="middle" >0.800</text>
<line x1="1874.95" y1="1694.2" x2="1874.95" y2="1699.5" stroke="#111" stroke-width="1.3"/>
<text x="1874.95" y="1725.2" font-size="25.3" text-anchor="middle" >0.825</text>
<line x1="1954.5" y1="1694.2" x2="1954.5" y2="1699.5" stroke="#111" stroke-width="1.3"/>
<text x="1954.5" y="1725.2" font-size="25.3" text-anchor="middle" >0.850</text>
<rect x="1440.9" y="1276.7" width="180.4" height="202.2" rx="3.5" fill="#fff" fill-opacity="0.8" stroke="#cccccc" stroke-width="1.3"/>
<circle cx="1467.2" cy="1294.5" r="5.4" fill="#ff0000"/>
<text x="1500" y="1300" font-size="18.4" text-anchor="start" >Length=7</text>
<circle cx="1467.2" cy="1322.68" r="5.4" fill="#008000"/>
<text x="1500" y="1328.18" font-size="18.4" text-anchor="start" >Length=8</text>
<circle cx="1467.2" cy="1350.86" r="5.4" fill="#0000ff"/>
<text x="1500" y="1356.36" font-size="18.4" text-anchor="start" >Length=9</text>
<circle cx="1467.2" cy="1379.04" r="5.4" fill="#00bfbf"/>
<text x="1500" y="1384.54" font-size="18.4" text-anchor="start" >Length=10</text>
<circle cx="1467.2" cy="1407.22" r="5.4" fill="#bfbf00"/>
<text x="1500" y="1412.72" font-size="18.4" text-anchor="start" >Length=11</text>
<circle cx="1467.2" cy="1435.4" r="5.4" fill="#ffc0cb"/>
<text x="1500" y="1440.9" font-size="18.4" text-anchor="start" >Length=12</text>
<circle cx="1467.2" cy="1463.58" r="5.4" fill="#000000"/>
<text x="1500" y="1469.08" font-size="18.4" text-anchor="start" >Length=13</text>
<text x="1706.5" y="1258" font-size="29.7" text-anchor="middle" >Metasurface Thickness 0=1.5</text>
<text x="1706.5" y="1756.5" font-size="24.9" text-anchor="middle" >Actual Value</text>
<text x="0" y="0" font-size="25.7" text-anchor="middle" transform="translate(1333,1481.05) rotate(-90)">Predicted Value</text>
<text x="328.3" y="37.8" font-size="40.5" text-anchor="middle" style="font-family:'Liberation Serif',serif;font-weight:bold">(a)</text>
<text x="981" y="37.8" font-size="40.5" text-anchor="middle" style="font-family:'Liberation Serif',serif;font-weight:bold">(b)</text>
<text x="1619.5" y="37.8" font-size="40.5" text-anchor="middle" style="font-family:'Liberation Serif',serif;font-weight:bold">(c)</text>
<text x="324.7" y="625.9" font-size="40.5" text-anchor="middle" style="font-family:'Liberation Serif',serif;font-weight:bold">(d)</text>
<text x="980.8" y="625.9" font-size="40.5" text-anchor="middle" style="font-family:'Liberation Serif',serif;font-weight:bold">(e)</text>
<text x="1620" y="625.9" font-size="40.5" text-anchor="middle" style="font-family:'Liberation Serif',serif;font-weight:bold">(f)</text>
<text x="318" y="1213" font-size="40.5" text-anchor="middle" style="font-family:'Liberation Serif',serif;font-weight:bold">(g)</text>
<text x="1003.3" y="1213" font-size="40.5" text-anchor="middle" style="font-family:'Liberation Serif',serif;font-weight:bold">(h)</text>
<text x="1631.6" y="1213" font-size="40.5" text-anchor="middle" style="font-family:'Liberation Serif',serif;font-weight:bold">(i)</text>
</svg></body></html>
